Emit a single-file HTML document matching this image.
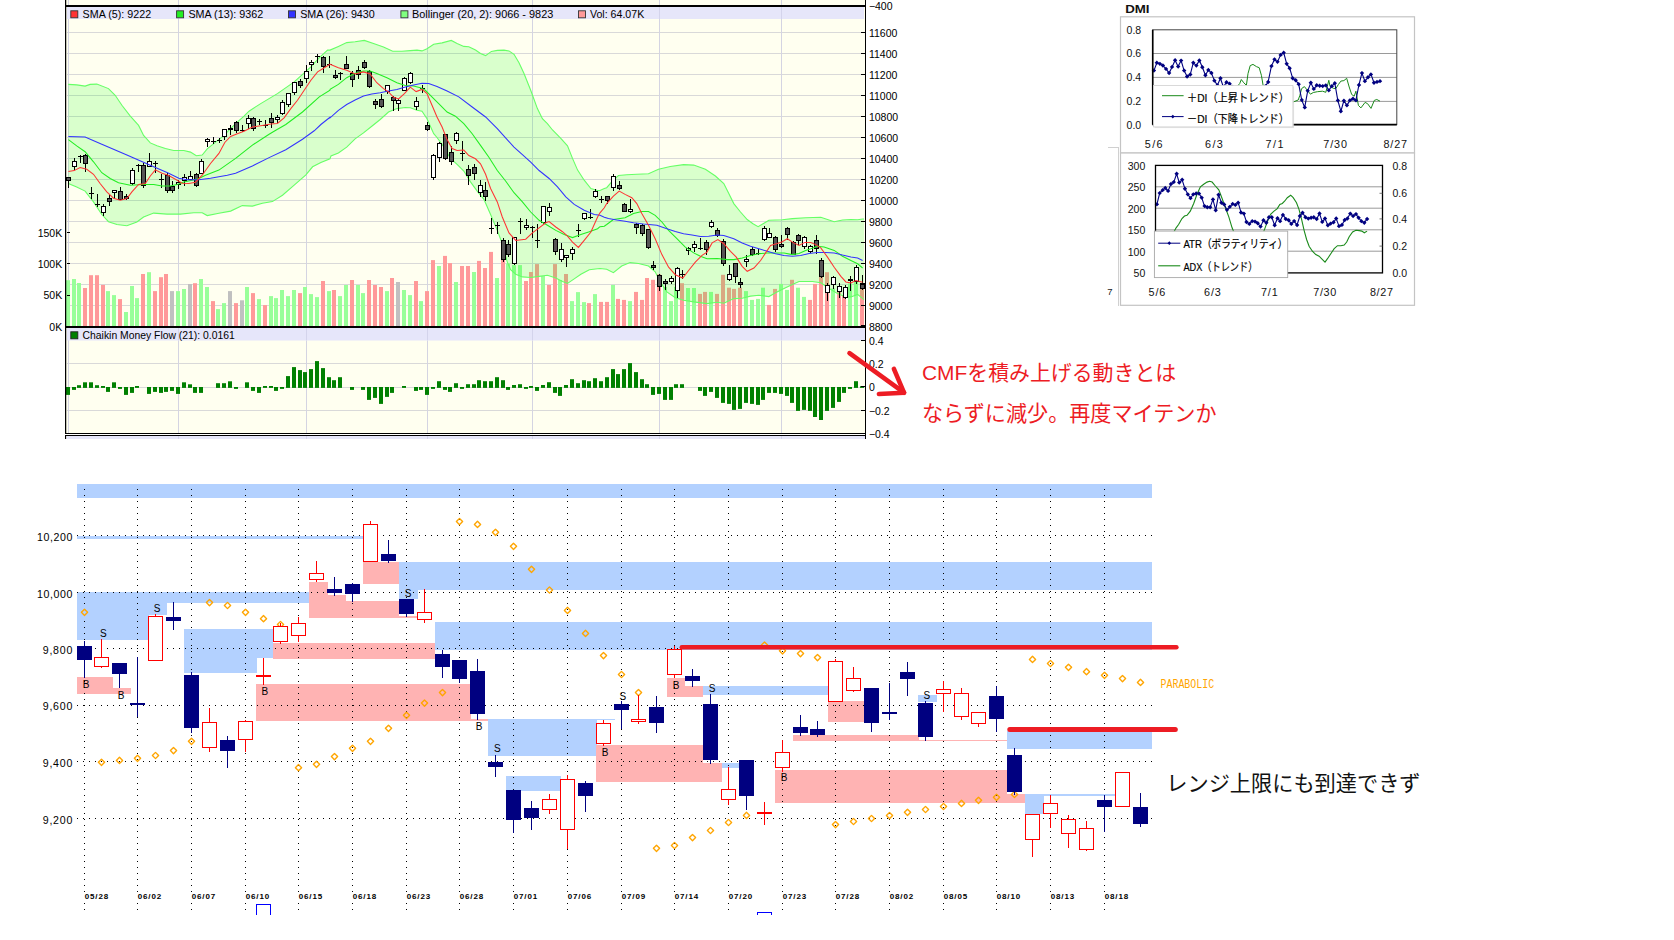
<!DOCTYPE html>
<html><head><meta charset="utf-8"><title>chart</title><style>html,body{margin:0;padding:0;background:#fff}svg{display:block}</style></head><body>
<svg width="1674" height="940" viewBox="0 0 1674 940">
<rect width="1674" height="940" fill="#fff"/>
<g id="top">
<rect x="66" y="0" width="799" height="439" fill="#fffff0"/>
<rect x="67" y="32" width="798" height="1" fill="#d9d9d9"/>
<rect x="67" y="53" width="798" height="1" fill="#d9d9d9"/>
<rect x="67" y="74" width="798" height="1" fill="#d9d9d9"/>
<rect x="67" y="95" width="798" height="1" fill="#d9d9d9"/>
<rect x="67" y="116" width="798" height="1" fill="#d9d9d9"/>
<rect x="67" y="137" width="798" height="1" fill="#d9d9d9"/>
<rect x="67" y="158" width="798" height="1" fill="#d9d9d9"/>
<rect x="67" y="179" width="798" height="1" fill="#d9d9d9"/>
<rect x="67" y="200" width="798" height="1" fill="#d9d9d9"/>
<rect x="67" y="221" width="798" height="1" fill="#d9d9d9"/>
<rect x="67" y="242" width="798" height="1" fill="#d9d9d9"/>
<rect x="67" y="263" width="798" height="1" fill="#d9d9d9"/>
<rect x="67" y="284" width="798" height="1" fill="#d9d9d9"/>
<rect x="67" y="305" width="798" height="1" fill="#d9d9d9"/>
<rect x="67" y="363" width="798" height="1" fill="#d9d9d9"/>
<rect x="67" y="387" width="798" height="1" fill="#d9d9d9"/>
<rect x="67" y="410" width="798" height="1" fill="#d9d9d9"/>
<rect x="68" y="0" width="1" height="439" fill="#d4d4e2"/>
<rect x="178" y="0" width="1" height="439" fill="#d4d4e2"/>
<rect x="306" y="0" width="1" height="439" fill="#d4d4e2"/>
<rect x="427" y="0" width="1" height="439" fill="#d4d4e2"/>
<rect x="532" y="0" width="1" height="439" fill="#d4d4e2"/>
<rect x="659" y="0" width="1" height="439" fill="#d4d4e2"/>
<rect x="781" y="0" width="1" height="439" fill="#d4d4e2"/>
<rect x="66" y="280.2" width="4" height="46.3" fill="#99ff99"/>
<rect x="72" y="279" width="4" height="47.5" fill="#99ff99"/>
<rect x="77" y="283" width="4" height="43.5" fill="#99ff99"/>
<rect x="83" y="288" width="4" height="38.5" fill="#ff9999"/>
<rect x="89" y="275.2" width="4" height="51.3" fill="#ff9999"/>
<rect x="95" y="275.2" width="4" height="51.3" fill="#ff9999"/>
<rect x="101" y="284.9" width="4" height="41.6" fill="#ff9999"/>
<rect x="106" y="291.1" width="4" height="35.4" fill="#99ff99"/>
<rect x="112" y="295.1" width="4" height="31.4" fill="#99ff99"/>
<rect x="118" y="299.1" width="4" height="27.4" fill="#ff9999"/>
<rect x="124" y="312" width="4" height="14.5" fill="#99ff99"/>
<rect x="130" y="286" width="4" height="40.5" fill="#99ff99"/>
<rect x="135" y="298.1" width="4" height="28.4" fill="#99ff99"/>
<rect x="141" y="274" width="4" height="52.5" fill="#ff9999"/>
<rect x="147" y="272.2" width="4" height="54.3" fill="#99ff99"/>
<rect x="153" y="291.1" width="4" height="35.4" fill="#ff9999"/>
<rect x="159" y="277.2" width="4" height="49.3" fill="#ff9999"/>
<rect x="164" y="274" width="4" height="52.5" fill="#ff9999"/>
<rect x="170" y="291.1" width="4" height="35.4" fill="#c0c0c0"/>
<rect x="176" y="291.1" width="4" height="35.4" fill="#99ff99"/>
<rect x="182" y="289" width="4" height="37.5" fill="#99ff99"/>
<rect x="188" y="284" width="4" height="42.5" fill="#c0c0c0"/>
<rect x="193" y="283.2" width="4" height="43.3" fill="#ff9999"/>
<rect x="199" y="279" width="4" height="47.5" fill="#99ff99"/>
<rect x="205" y="287" width="4" height="39.5" fill="#99ff99"/>
<rect x="211" y="301.1" width="4" height="25.4" fill="#ff9999"/>
<rect x="216" y="309.1" width="4" height="17.4" fill="#99ff99"/>
<rect x="222" y="303.1" width="4" height="23.4" fill="#99ff99"/>
<rect x="228" y="291.1" width="4" height="35.4" fill="#c0c0c0"/>
<rect x="234" y="303.1" width="4" height="23.4" fill="#ff9999"/>
<rect x="240" y="300.3" width="4" height="26.2" fill="#c0c0c0"/>
<rect x="245" y="287" width="4" height="39.5" fill="#99ff99"/>
<rect x="251" y="293.1" width="4" height="33.4" fill="#ff9999"/>
<rect x="257" y="299.1" width="4" height="27.4" fill="#99ff99"/>
<rect x="263" y="305.1" width="4" height="21.4" fill="#ff9999"/>
<rect x="269" y="296.1" width="4" height="30.4" fill="#99ff99"/>
<rect x="274" y="298.1" width="4" height="28.4" fill="#99ff99"/>
<rect x="280" y="290" width="4" height="36.5" fill="#99ff99"/>
<rect x="286" y="296.1" width="4" height="30.4" fill="#99ff99"/>
<rect x="292" y="290" width="4" height="36.5" fill="#99ff99"/>
<rect x="298" y="293.1" width="4" height="33.4" fill="#ff9999"/>
<rect x="303" y="287" width="4" height="39.5" fill="#99ff99"/>
<rect x="309" y="294.1" width="4" height="32.4" fill="#99ff99"/>
<rect x="315" y="297.1" width="4" height="29.4" fill="#99ff99"/>
<rect x="321" y="281" width="4" height="45.5" fill="#ff9999"/>
<rect x="327" y="291.1" width="4" height="35.4" fill="#99ff99"/>
<rect x="332" y="290" width="4" height="36.5" fill="#ff9999"/>
<rect x="338" y="296.1" width="4" height="30.4" fill="#99ff99"/>
<rect x="344" y="285" width="4" height="41.5" fill="#99ff99"/>
<rect x="350" y="280" width="4" height="46.5" fill="#ff9999"/>
<rect x="356" y="285" width="4" height="41.5" fill="#99ff99"/>
<rect x="361" y="293.1" width="4" height="33.4" fill="#99ff99"/>
<rect x="367" y="280" width="4" height="46.5" fill="#ff9999"/>
<rect x="373" y="285" width="4" height="41.5" fill="#ff9999"/>
<rect x="379" y="287" width="4" height="39.5" fill="#ff9999"/>
<rect x="385" y="291.1" width="4" height="35.4" fill="#99ff99"/>
<rect x="390" y="278" width="4" height="48.5" fill="#ff9999"/>
<rect x="396" y="282" width="4" height="44.5" fill="#c0c0c0"/>
<rect x="402" y="290" width="4" height="36.5" fill="#99ff99"/>
<rect x="408" y="295.1" width="4" height="31.4" fill="#99ff99"/>
<rect x="414" y="281" width="4" height="45.5" fill="#ff9999"/>
<rect x="419" y="301.1" width="4" height="25.4" fill="#99ff99"/>
<rect x="425" y="291.1" width="4" height="35.4" fill="#ff9999"/>
<rect x="431" y="260.1" width="4" height="66.4" fill="#ff9999"/>
<rect x="437" y="266" width="4" height="60.5" fill="#99ff99"/>
<rect x="443" y="255.9" width="4" height="70.6" fill="#ff9999"/>
<rect x="448" y="263.1" width="4" height="63.4" fill="#ff9999"/>
<rect x="454" y="282" width="4" height="44.5" fill="#99ff99"/>
<rect x="460" y="266" width="4" height="60.5" fill="#ff9999"/>
<rect x="466" y="266" width="4" height="60.5" fill="#ff9999"/>
<rect x="472" y="272" width="4" height="54.5" fill="#99ff99"/>
<rect x="477" y="260.9" width="4" height="65.6" fill="#ff9999"/>
<rect x="483" y="268" width="4" height="58.5" fill="#ff9999"/>
<rect x="489" y="251.9" width="4" height="74.6" fill="#ff9999"/>
<rect x="495" y="278" width="4" height="48.5" fill="#99ff99"/>
<rect x="501" y="258.4" width="4" height="68.1" fill="#ff9999"/>
<rect x="506" y="263.5" width="4" height="63" fill="#99ff99"/>
<rect x="512" y="265.1" width="4" height="61.4" fill="#99ff99"/>
<rect x="518" y="265.1" width="4" height="61.4" fill="#99ff99"/>
<rect x="524" y="281" width="4" height="45.5" fill="#ff9999"/>
<rect x="529" y="272" width="4" height="54.5" fill="#ff9999"/>
<rect x="535" y="264.1" width="4" height="62.4" fill="#ff9999"/>
<rect x="541" y="276" width="4" height="50.5" fill="#99ff99"/>
<rect x="547" y="285" width="4" height="41.5" fill="#ff9999"/>
<rect x="553" y="264.1" width="4" height="62.4" fill="#ff9999"/>
<rect x="558" y="280" width="4" height="46.5" fill="#99ff99"/>
<rect x="564" y="274" width="4" height="52.5" fill="#ff9999"/>
<rect x="570" y="301.1" width="4" height="25.4" fill="#99ff99"/>
<rect x="576" y="292.1" width="4" height="34.4" fill="#99ff99"/>
<rect x="582" y="302.1" width="4" height="24.4" fill="#99ff99"/>
<rect x="587" y="303.1" width="4" height="23.4" fill="#ff9999"/>
<rect x="593" y="294.1" width="4" height="32.4" fill="#99ff99"/>
<rect x="599" y="301.9" width="4" height="24.6" fill="#ff9999"/>
<rect x="605" y="301.9" width="4" height="24.6" fill="#ff9999"/>
<rect x="611" y="284.9" width="4" height="41.6" fill="#99ff99"/>
<rect x="616" y="298.9" width="4" height="27.6" fill="#ff9999"/>
<rect x="622" y="299.9" width="4" height="26.6" fill="#ff9999"/>
<rect x="628" y="301.1" width="4" height="25.4" fill="#99ff99"/>
<rect x="634" y="291.9" width="4" height="34.6" fill="#ff9999"/>
<rect x="640" y="299.9" width="4" height="26.6" fill="#ff9999"/>
<rect x="645" y="278" width="4" height="48.5" fill="#ff9999"/>
<rect x="651" y="279.8" width="4" height="46.7" fill="#ff9999"/>
<rect x="657" y="274.3" width="4" height="52.2" fill="#ff9999"/>
<rect x="663" y="286.9" width="4" height="39.6" fill="#99ff99"/>
<rect x="669" y="301.1" width="4" height="25.4" fill="#99ff99"/>
<rect x="674" y="286.9" width="4" height="39.6" fill="#99ff99"/>
<rect x="680" y="283.2" width="4" height="43.3" fill="#ff9999"/>
<rect x="686" y="288" width="4" height="38.5" fill="#99ff99"/>
<rect x="692" y="288" width="4" height="38.5" fill="#99ff99"/>
<rect x="698" y="293.9" width="4" height="32.6" fill="#ff9999"/>
<rect x="703" y="291.9" width="4" height="34.6" fill="#ff9999"/>
<rect x="709" y="291.9" width="4" height="34.6" fill="#99ff99"/>
<rect x="715" y="293.9" width="4" height="32.6" fill="#ff9999"/>
<rect x="721" y="274.8" width="4" height="51.7" fill="#ff9999"/>
<rect x="727" y="287.7" width="4" height="38.8" fill="#ff9999"/>
<rect x="732" y="288.9" width="4" height="37.6" fill="#ff9999"/>
<rect x="738" y="287.7" width="4" height="38.8" fill="#ff9999"/>
<rect x="744" y="291.1" width="4" height="35.4" fill="#99ff99"/>
<rect x="750" y="299.9" width="4" height="26.6" fill="#99ff99"/>
<rect x="756" y="298.9" width="4" height="27.6" fill="#99ff99"/>
<rect x="761" y="287.7" width="4" height="38.8" fill="#99ff99"/>
<rect x="767" y="304.9" width="4" height="21.6" fill="#ff9999"/>
<rect x="773" y="288.9" width="4" height="37.6" fill="#ff9999"/>
<rect x="779" y="283.9" width="4" height="42.6" fill="#99ff99"/>
<rect x="785" y="289.9" width="4" height="36.6" fill="#99ff99"/>
<rect x="790" y="279.8" width="4" height="46.7" fill="#ff9999"/>
<rect x="796" y="287.7" width="4" height="38.8" fill="#99ff99"/>
<rect x="802" y="296.9" width="4" height="29.6" fill="#99ff99"/>
<rect x="808" y="299.9" width="4" height="26.6" fill="#ff9999"/>
<rect x="813" y="283.9" width="4" height="42.6" fill="#ff9999"/>
<rect x="819" y="276.8" width="4" height="49.7" fill="#ff9999"/>
<rect x="825" y="272.2" width="4" height="54.3" fill="#ff9999"/>
<rect x="831" y="288.5" width="4" height="38" fill="#99ff99"/>
<rect x="837" y="291.1" width="4" height="35.4" fill="#ff9999"/>
<rect x="842" y="295.2" width="4" height="31.3" fill="#ff9999"/>
<rect x="848" y="283.5" width="4" height="43" fill="#99ff99"/>
<rect x="854" y="281.9" width="4" height="44.6" fill="#99ff99"/>
<rect x="860" y="288.5" width="4" height="38" fill="#ff9999"/>
<polygon points="68.2,84.4 68.4,84.4 76.7,84.9 85.1,86.1 90.1,84.4 96.8,84.1 108.5,88.6 115.2,95.3 121.9,105.3 130.3,116.2 138.6,125.4 143.6,135.4 150.3,142.9 157,145.8 165.4,148.5 173.7,150.5 183.8,150.5 190.5,152.1 196.3,155.8 202.2,155.1 207.2,148.8 215.6,142.1 223.1,136.2 235.6,123.7 244,116.2 249,111.2 260.7,103.6 277.4,93.6 294.2,81.9 310.9,66.8 319.3,57.6 327.6,50.1 330,50.1 338.4,46.4 346.7,42.6 355.1,41.7 364.3,40.4 373.5,43.4 383.5,47.1 392.7,51.3 401.9,51.3 410.3,50.6 417,50.1 422,50.9 427,48.8 433.7,44.3 442.1,42.9 451.3,40.4 457.1,43.4 463.8,46.4 468.8,46.8 475.5,50.1 480.5,53.5 485.6,55.6 491.4,51.4 497.3,50.4 504,50.1 509,50.9 514,54.3 519,62.7 524,73.5 530.7,90.3 537.4,108.6 542.4,118.7 547.4,123.7 552.5,130 560.8,138.4 567.5,145.9 572.5,158.4 577.6,170.1 584.2,180.2 590.9,188.5 597.6,190.5 600,190.5 604.3,188.5 606.7,187.7 611.7,181.9 618.4,175.5 626.8,174.8 636.8,174.3 648.5,173.8 658.5,169.3 670.3,166.5 683.6,164.6 693.7,165.1 705.4,169.3 715.4,176 723.8,183.5 728.8,193.6 733.8,203.6 740.5,212 747.2,219.5 753,223.7 758.1,226.7 763.1,223.7 768.9,220.3 782.3,219.8 792.4,218.6 805.7,217.8 820.8,217.3 827.5,219.5 834.2,221.7 842.5,220 850.9,219.5 857.6,219.8 862.6,219 864,219 864,299.6 862.6,298.6 857.6,294.4 850.9,296.9 845.9,296.9 837.5,293.6 829.2,288.5 820.8,282.7 812.4,281.5 799,281.5 792.4,284.4 784,288.5 775.6,292.7 768.9,296.6 758.9,295.2 750.5,296.1 742.2,298.2 733.8,298.6 723.8,303.3 717.1,302.3 707,303.6 693.7,301.9 683.6,300.3 675.3,297.7 666.9,291.9 660.2,281.9 655.2,271.8 648.5,266 638.5,263.5 630.1,262.6 621.7,266 613.4,272.7 606.7,269.3 600,268.5 597.6,268.8 589.3,269.7 580.9,274.2 574.2,278.9 567.5,283.5 562.5,281.4 555.8,278 547.4,275.2 539.1,276.4 530.7,277.5 522.4,276.9 515.7,274.2 510.6,269.7 507.3,262.1 502.3,243.7 497.3,230.4 490.6,214.5 483.9,199.4 477.2,191.1 470.5,181.9 463.8,171 457.1,164.3 450.4,158.4 443.7,146.7 437,137.5 433.7,133.7 427,118.7 422,111.2 417,110.3 410.3,107.8 405.3,107.5 396.9,108.6 388.5,112 380.2,119.5 371.8,126.2 363.5,132.9 355.1,138.8 346.7,147.1 338.4,153 331,155.9 330,158.8 320.9,162.6 312.6,166.8 305.9,174.8 294.2,185.2 282.5,195.2 272.4,201.6 262.4,203.3 252.4,206.1 242.3,205.6 230.6,211.1 218.9,213.3 207.2,215.6 202.2,212.8 193.8,212.8 180.4,214.1 167,214.1 153.7,213.1 143.6,217 136.9,222 126.9,225.8 116.9,224.5 108.5,221.7 101.8,214.5 93.5,201.9 85.1,191.1 76.7,186.9 68.4,183.5 68.2,183.2" fill="#00ff00" fill-opacity="0.15"/>
<polyline points="68.2,84.4 68.4,84.4 76.7,84.9 85.1,86.1 90.1,84.4 96.8,84.1 108.5,88.6 115.2,95.3 121.9,105.3 130.3,116.2 138.6,125.4 143.6,135.4 150.3,142.9 157,145.8 165.4,148.5 173.7,150.5 183.8,150.5 190.5,152.1 196.3,155.8 202.2,155.1 207.2,148.8 215.6,142.1 223.1,136.2 235.6,123.7 244,116.2 249,111.2 260.7,103.6 277.4,93.6 294.2,81.9 310.9,66.8 319.3,57.6 327.6,50.1 330,50.1 338.4,46.4 346.7,42.6 355.1,41.7 364.3,40.4 373.5,43.4 383.5,47.1 392.7,51.3 401.9,51.3 410.3,50.6 417,50.1 422,50.9 427,48.8 433.7,44.3 442.1,42.9 451.3,40.4 457.1,43.4 463.8,46.4 468.8,46.8 475.5,50.1 480.5,53.5 485.6,55.6 491.4,51.4 497.3,50.4 504,50.1 509,50.9 514,54.3 519,62.7 524,73.5 530.7,90.3 537.4,108.6 542.4,118.7 547.4,123.7 552.5,130 560.8,138.4 567.5,145.9 572.5,158.4 577.6,170.1 584.2,180.2 590.9,188.5 597.6,190.5 600,190.5 604.3,188.5 606.7,187.7 611.7,181.9 618.4,175.5 626.8,174.8 636.8,174.3 648.5,173.8 658.5,169.3 670.3,166.5 683.6,164.6 693.7,165.1 705.4,169.3 715.4,176 723.8,183.5 728.8,193.6 733.8,203.6 740.5,212 747.2,219.5 753,223.7 758.1,226.7 763.1,223.7 768.9,220.3 782.3,219.8 792.4,218.6 805.7,217.8 820.8,217.3 827.5,219.5 834.2,221.7 842.5,220 850.9,219.5 857.6,219.8 862.6,219 864,219" fill="none" stroke="#66ff66" stroke-width="1.1"/>
<polyline points="68.2,183.2 68.4,183.5 76.7,186.9 85.1,191.1 93.5,201.9 101.8,214.5 108.5,221.7 116.9,224.5 126.9,225.8 136.9,222 143.6,217 153.7,213.1 167,214.1 180.4,214.1 193.8,212.8 202.2,212.8 207.2,215.6 218.9,213.3 230.6,211.1 242.3,205.6 252.4,206.1 262.4,203.3 272.4,201.6 282.5,195.2 294.2,185.2 305.9,174.8 312.6,166.8 320.9,162.6 330,158.8 331,155.9 338.4,153 346.7,147.1 355.1,138.8 363.5,132.9 371.8,126.2 380.2,119.5 388.5,112 396.9,108.6 405.3,107.5 410.3,107.8 417,110.3 422,111.2 427,118.7 433.7,133.7 437,137.5 443.7,146.7 450.4,158.4 457.1,164.3 463.8,171 470.5,181.9 477.2,191.1 483.9,199.4 490.6,214.5 497.3,230.4 502.3,243.7 507.3,262.1 510.6,269.7 515.7,274.2 522.4,276.9 530.7,277.5 539.1,276.4 547.4,275.2 555.8,278 562.5,281.4 567.5,283.5 574.2,278.9 580.9,274.2 589.3,269.7 597.6,268.8 600,268.5 606.7,269.3 613.4,272.7 621.7,266 630.1,262.6 638.5,263.5 648.5,266 655.2,271.8 660.2,281.9 666.9,291.9 675.3,297.7 683.6,300.3 693.7,301.9 707,303.6 717.1,302.3 723.8,303.3 733.8,298.6 742.2,298.2 750.5,296.1 758.9,295.2 768.9,296.6 775.6,292.7 784,288.5 792.4,284.4 799,281.5 812.4,281.5 820.8,282.7 829.2,288.5 837.5,293.6 845.9,296.9 850.9,296.9 857.6,294.4 862.6,298.6 864,299.6" fill="none" stroke="#66ff66" stroke-width="1.1"/>
<g shape-rendering="crispEdges">
<rect x="68" y="177" width="1" height="11" fill="#000"/>
<rect x="66.5" y="177.5" width="4" height="3" fill="#555" stroke="#000" stroke-width="1"/>
<rect x="74" y="158" width="1" height="12" fill="#000"/>
<rect x="72.5" y="161.5" width="4" height="5" fill="#fff" stroke="#000" stroke-width="1"/>
<rect x="80" y="155" width="1" height="8" fill="#000"/>
<rect x="78" y="156" width="5" height="1" fill="#000"/>
<rect x="85" y="154" width="1" height="18" fill="#000"/>
<rect x="83.5" y="155.5" width="4" height="8" fill="#555" stroke="#000" stroke-width="1"/>
<rect x="91" y="187" width="1" height="12" fill="#000"/>
<rect x="89" y="193" width="5" height="1" fill="#000"/>
<rect x="97" y="194" width="1" height="13" fill="#000"/>
<rect x="95" y="204" width="5" height="1" fill="#000"/>
<rect x="103" y="204" width="1" height="12" fill="#000"/>
<rect x="101.5" y="206.5" width="4" height="6" fill="#fff" stroke="#000" stroke-width="1"/>
<rect x="109" y="195" width="1" height="11" fill="#000"/>
<rect x="107.5" y="198.5" width="4" height="3" fill="#555" stroke="#000" stroke-width="1"/>
<rect x="114" y="191" width="1" height="8" fill="#000"/>
<rect x="112.5" y="190.5" width="4" height="2" fill="#fff" stroke="#000" stroke-width="1"/>
<rect x="120" y="187" width="1" height="13" fill="#000"/>
<rect x="118.5" y="191.5" width="4" height="8" fill="#555" stroke="#000" stroke-width="1"/>
<rect x="126" y="194" width="1" height="6" fill="#000"/>
<rect x="124.5" y="196.5" width="4" height="2" fill="#555" stroke="#000" stroke-width="1"/>
<rect x="132" y="168" width="1" height="17" fill="#000"/>
<rect x="130.5" y="170.5" width="4" height="13" fill="#fff" stroke="#000" stroke-width="1"/>
<rect x="138" y="164" width="1" height="8" fill="#000"/>
<rect x="136" y="165" width="5" height="1" fill="#000"/>
<rect x="143" y="163" width="1" height="25" fill="#000"/>
<rect x="141.5" y="165.5" width="4" height="20" fill="#555" stroke="#000" stroke-width="1"/>
<rect x="149" y="153" width="1" height="14" fill="#000"/>
<rect x="147.5" y="161.5" width="4" height="5" fill="#fff" stroke="#000" stroke-width="1"/>
<rect x="155" y="161" width="1" height="12" fill="#000"/>
<rect x="153" y="163" width="5" height="1" fill="#000"/>
<rect x="161" y="174" width="1" height="14" fill="#000"/>
<rect x="159" y="179" width="5" height="1" fill="#000"/>
<rect x="167" y="173" width="1" height="20" fill="#000"/>
<rect x="165.5" y="175.5" width="4" height="15" fill="#555" stroke="#000" stroke-width="1"/>
<rect x="172" y="181" width="1" height="12" fill="#000"/>
<rect x="170.5" y="186.5" width="4" height="4" fill="#555" stroke="#000" stroke-width="1"/>
<rect x="178" y="180" width="1" height="9" fill="#000"/>
<rect x="176.5" y="182.5" width="4" height="2" fill="#fff" stroke="#000" stroke-width="1"/>
<rect x="184" y="174" width="1" height="12" fill="#000"/>
<rect x="182.5" y="177.5" width="4" height="3" fill="#fff" stroke="#000" stroke-width="1"/>
<rect x="190" y="171" width="1" height="9" fill="#000"/>
<rect x="188.5" y="176.5" width="4" height="3" fill="#fff" stroke="#000" stroke-width="1"/>
<rect x="196" y="173" width="1" height="14" fill="#000"/>
<rect x="194.5" y="174.5" width="4" height="11" fill="#555" stroke="#000" stroke-width="1"/>
<rect x="201" y="159" width="1" height="15" fill="#000"/>
<rect x="199.5" y="161.5" width="4" height="12" fill="#fff" stroke="#000" stroke-width="1"/>
<rect x="207" y="138" width="1" height="9" fill="#000"/>
<rect x="205.5" y="139.5" width="4" height="2" fill="#fff" stroke="#000" stroke-width="1"/>
<rect x="213" y="137" width="1" height="7" fill="#000"/>
<rect x="211" y="141" width="5" height="1" fill="#000"/>
<rect x="219" y="138" width="1" height="5" fill="#000"/>
<rect x="217" y="140" width="5" height="1" fill="#000"/>
<rect x="224" y="129" width="1" height="11" fill="#000"/>
<rect x="222.5" y="129.5" width="4" height="7" fill="#fff" stroke="#000" stroke-width="1"/>
<rect x="230" y="125" width="1" height="10" fill="#000"/>
<rect x="228" y="128" width="5" height="2" fill="#000"/>
<rect x="236" y="121" width="1" height="12" fill="#000"/>
<rect x="234.5" y="122.5" width="4" height="8" fill="#555" stroke="#000" stroke-width="1"/>
<rect x="242" y="125" width="1" height="7" fill="#000"/>
<rect x="240" y="130" width="5" height="1" fill="#000"/>
<rect x="248" y="115" width="1" height="14" fill="#000"/>
<rect x="246.5" y="118.5" width="4" height="5" fill="#fff" stroke="#000" stroke-width="1"/>
<rect x="253" y="117" width="1" height="14" fill="#000"/>
<rect x="251.5" y="118.5" width="4" height="10" fill="#555" stroke="#000" stroke-width="1"/>
<rect x="259" y="119" width="1" height="6" fill="#000"/>
<rect x="257" y="121" width="5" height="1" fill="#000"/>
<rect x="265" y="120" width="1" height="8" fill="#000"/>
<rect x="263" y="125" width="5" height="1" fill="#000"/>
<rect x="271" y="113" width="1" height="15" fill="#000"/>
<rect x="269.5" y="118.5" width="4" height="4" fill="#555" stroke="#000" stroke-width="1"/>
<rect x="277" y="115" width="1" height="8" fill="#000"/>
<rect x="275.5" y="117.5" width="4" height="2" fill="#fff" stroke="#000" stroke-width="1"/>
<rect x="282" y="100" width="1" height="15" fill="#000"/>
<rect x="280.5" y="102.5" width="4" height="11" fill="#fff" stroke="#000" stroke-width="1"/>
<rect x="288" y="93" width="1" height="14" fill="#000"/>
<rect x="286.5" y="93.5" width="4" height="11" fill="#fff" stroke="#000" stroke-width="1"/>
<rect x="294" y="82" width="1" height="13" fill="#000"/>
<rect x="292.5" y="82.5" width="4" height="10" fill="#fff" stroke="#000" stroke-width="1"/>
<rect x="300" y="79" width="1" height="9" fill="#000"/>
<rect x="298.5" y="81.5" width="4" height="4" fill="#555" stroke="#000" stroke-width="1"/>
<rect x="306" y="65" width="1" height="18" fill="#000"/>
<rect x="304.5" y="71.5" width="4" height="7" fill="#fff" stroke="#000" stroke-width="1"/>
<rect x="311" y="60" width="1" height="11" fill="#000"/>
<rect x="309.5" y="62.5" width="4" height="2" fill="#fff" stroke="#000" stroke-width="1"/>
<rect x="317" y="54" width="1" height="9" fill="#000"/>
<rect x="315" y="56" width="5" height="1" fill="#000"/>
<rect x="323" y="56" width="1" height="17" fill="#000"/>
<rect x="321.5" y="57.5" width="4" height="9" fill="#555" stroke="#000" stroke-width="1"/>
<rect x="329" y="56" width="1" height="12" fill="#000"/>
<rect x="327" y="64" width="5" height="1" fill="#000"/>
<rect x="335" y="70" width="1" height="9" fill="#000"/>
<rect x="333.5" y="75.5" width="4" height="2" fill="#555" stroke="#000" stroke-width="1"/>
<rect x="340" y="72" width="1" height="8" fill="#000"/>
<rect x="338" y="73" width="5" height="1" fill="#000"/>
<rect x="346" y="56" width="1" height="13" fill="#000"/>
<rect x="344.5" y="64.5" width="4" height="4" fill="#555" stroke="#000" stroke-width="1"/>
<rect x="352" y="71" width="1" height="16" fill="#000"/>
<rect x="350.5" y="73.5" width="4" height="6" fill="#555" stroke="#000" stroke-width="1"/>
<rect x="358" y="66" width="1" height="13" fill="#000"/>
<rect x="356.5" y="70.5" width="4" height="4" fill="#555" stroke="#000" stroke-width="1"/>
<rect x="364" y="60" width="1" height="9" fill="#000"/>
<rect x="362.5" y="62.5" width="4" height="5" fill="#555" stroke="#000" stroke-width="1"/>
<rect x="369" y="70" width="1" height="18" fill="#000"/>
<rect x="367.5" y="71.5" width="4" height="15" fill="#555" stroke="#000" stroke-width="1"/>
<rect x="375" y="99" width="1" height="10" fill="#000"/>
<rect x="373.5" y="101.5" width="4" height="3" fill="#555" stroke="#000" stroke-width="1"/>
<rect x="381" y="94" width="1" height="14" fill="#000"/>
<rect x="379.5" y="99.5" width="4" height="7" fill="#555" stroke="#000" stroke-width="1"/>
<rect x="387" y="86" width="1" height="8" fill="#000"/>
<rect x="385.5" y="85.5" width="4" height="6" fill="#fff" stroke="#000" stroke-width="1"/>
<rect x="393" y="96" width="1" height="15" fill="#000"/>
<rect x="391.5" y="97.5" width="4" height="3" fill="#555" stroke="#000" stroke-width="1"/>
<rect x="398" y="99" width="1" height="12" fill="#000"/>
<rect x="396.5" y="100.5" width="4" height="3" fill="#fff" stroke="#000" stroke-width="1"/>
<rect x="404" y="77" width="1" height="13" fill="#000"/>
<rect x="402.5" y="78.5" width="4" height="12" fill="#fff" stroke="#000" stroke-width="1"/>
<rect x="410" y="72" width="1" height="12" fill="#000"/>
<rect x="408.5" y="73.5" width="4" height="9" fill="#fff" stroke="#000" stroke-width="1"/>
<rect x="416" y="97" width="1" height="13" fill="#000"/>
<rect x="414.5" y="101.5" width="4" height="5" fill="#fff" stroke="#000" stroke-width="1"/>
<rect x="422" y="85" width="1" height="8" fill="#000"/>
<rect x="420" y="88" width="5" height="1" fill="#000"/>
<rect x="427" y="122" width="1" height="9" fill="#000"/>
<rect x="425.5" y="125.5" width="4" height="4" fill="#555" stroke="#000" stroke-width="1"/>
<rect x="433" y="154" width="1" height="26" fill="#000"/>
<rect x="431.5" y="155.5" width="4" height="22" fill="#fff" stroke="#000" stroke-width="1"/>
<rect x="439" y="142" width="1" height="20" fill="#000"/>
<rect x="437.5" y="143.5" width="4" height="14" fill="#fff" stroke="#000" stroke-width="1"/>
<rect x="445" y="134" width="1" height="26" fill="#000"/>
<rect x="443.5" y="134.5" width="4" height="24" fill="#555" stroke="#000" stroke-width="1"/>
<rect x="451" y="146" width="1" height="19" fill="#000"/>
<rect x="449.5" y="152.5" width="4" height="9" fill="#555" stroke="#000" stroke-width="1"/>
<rect x="456" y="132" width="1" height="12" fill="#000"/>
<rect x="454.5" y="133.5" width="4" height="7" fill="#fff" stroke="#000" stroke-width="1"/>
<rect x="462" y="141" width="1" height="20" fill="#000"/>
<rect x="460" y="153" width="5" height="1" fill="#000"/>
<rect x="468" y="165" width="1" height="20" fill="#000"/>
<rect x="466.5" y="169.5" width="4" height="6" fill="#555" stroke="#000" stroke-width="1"/>
<rect x="474" y="164" width="1" height="16" fill="#000"/>
<rect x="472.5" y="167.5" width="4" height="6" fill="#555" stroke="#000" stroke-width="1"/>
<rect x="480" y="180" width="1" height="17" fill="#000"/>
<rect x="478.5" y="185.5" width="4" height="7" fill="#fff" stroke="#000" stroke-width="1"/>
<rect x="485" y="182" width="1" height="19" fill="#000"/>
<rect x="483.5" y="190.5" width="4" height="6" fill="#555" stroke="#000" stroke-width="1"/>
<rect x="491" y="218" width="1" height="16" fill="#000"/>
<rect x="489" y="228" width="5" height="1" fill="#000"/>
<rect x="497" y="222" width="1" height="12" fill="#000"/>
<rect x="495" y="225" width="5" height="1" fill="#000"/>
<rect x="503" y="238" width="1" height="24" fill="#000"/>
<rect x="501.5" y="240.5" width="4" height="19" fill="#555" stroke="#000" stroke-width="1"/>
<rect x="508" y="240" width="1" height="17" fill="#000"/>
<rect x="506.5" y="244.5" width="4" height="10" fill="#555" stroke="#000" stroke-width="1"/>
<rect x="514" y="238" width="1" height="27" fill="#000"/>
<rect x="512.5" y="237.5" width="4" height="26" fill="#fff" stroke="#000" stroke-width="1"/>
<rect x="520" y="218" width="1" height="16" fill="#000"/>
<rect x="518" y="221" width="5" height="1" fill="#000"/>
<rect x="526" y="219" width="1" height="11" fill="#000"/>
<rect x="524.5" y="225.5" width="4" height="2" fill="#fff" stroke="#000" stroke-width="1"/>
<rect x="532" y="226" width="1" height="12" fill="#000"/>
<rect x="530" y="227" width="5" height="1" fill="#000"/>
<rect x="537" y="224" width="1" height="24" fill="#000"/>
<rect x="535" y="240" width="5" height="1" fill="#000"/>
<rect x="543" y="206" width="1" height="18" fill="#000"/>
<rect x="541.5" y="206.5" width="4" height="16" fill="#fff" stroke="#000" stroke-width="1"/>
<rect x="549" y="203" width="1" height="13" fill="#000"/>
<rect x="547.5" y="207.5" width="4" height="4" fill="#fff" stroke="#000" stroke-width="1"/>
<rect x="555" y="238" width="1" height="17" fill="#000"/>
<rect x="553.5" y="239.5" width="4" height="12" fill="#555" stroke="#000" stroke-width="1"/>
<rect x="561" y="243" width="1" height="19" fill="#000"/>
<rect x="559.5" y="249.5" width="4" height="10" fill="#fff" stroke="#000" stroke-width="1"/>
<rect x="566" y="255" width="1" height="12" fill="#000"/>
<rect x="564.5" y="255.5" width="4" height="2" fill="#fff" stroke="#000" stroke-width="1"/>
<rect x="572" y="247" width="1" height="13" fill="#000"/>
<rect x="570.5" y="249.5" width="4" height="4" fill="#fff" stroke="#000" stroke-width="1"/>
<rect x="578" y="224" width="1" height="13" fill="#000"/>
<rect x="576" y="230" width="5" height="1" fill="#000"/>
<rect x="584" y="213" width="1" height="7" fill="#000"/>
<rect x="582.5" y="213.5" width="4" height="5" fill="#fff" stroke="#000" stroke-width="1"/>
<rect x="590" y="209" width="1" height="10" fill="#000"/>
<rect x="588" y="217" width="5" height="1" fill="#000"/>
<rect x="595" y="189" width="1" height="9" fill="#000"/>
<rect x="593.5" y="191.5" width="4" height="5" fill="#fff" stroke="#000" stroke-width="1"/>
<rect x="601" y="196" width="1" height="7" fill="#000"/>
<rect x="599" y="199" width="5" height="1" fill="#000"/>
<rect x="607" y="196" width="1" height="8" fill="#000"/>
<rect x="605.5" y="196.5" width="4" height="4" fill="#555" stroke="#000" stroke-width="1"/>
<rect x="613" y="174" width="1" height="17" fill="#000"/>
<rect x="611.5" y="176.5" width="4" height="11" fill="#fff" stroke="#000" stroke-width="1"/>
<rect x="619" y="181" width="1" height="9" fill="#000"/>
<rect x="617.5" y="185.5" width="4" height="3" fill="#555" stroke="#000" stroke-width="1"/>
<rect x="624" y="203" width="1" height="9" fill="#000"/>
<rect x="622.5" y="204.5" width="4" height="7" fill="#555" stroke="#000" stroke-width="1"/>
<rect x="630" y="199" width="1" height="14" fill="#000"/>
<rect x="628.5" y="209.5" width="4" height="2" fill="#fff" stroke="#000" stroke-width="1"/>
<rect x="636" y="223" width="1" height="11" fill="#000"/>
<rect x="634.5" y="224.5" width="4" height="3" fill="#555" stroke="#000" stroke-width="1"/>
<rect x="642" y="224" width="1" height="12" fill="#000"/>
<rect x="640.5" y="225.5" width="4" height="8" fill="#555" stroke="#000" stroke-width="1"/>
<rect x="648" y="229" width="1" height="20" fill="#000"/>
<rect x="646.5" y="229.5" width="4" height="18" fill="#555" stroke="#000" stroke-width="1"/>
<rect x="688" y="247" width="1" height="8" fill="#000"/>
<rect x="686.5" y="248.5" width="4" height="2" fill="#fff" stroke="#000" stroke-width="1"/>
<rect x="694" y="241" width="1" height="11" fill="#000"/>
<rect x="692.5" y="244.5" width="4" height="3" fill="#fff" stroke="#000" stroke-width="1"/>
<rect x="700" y="238" width="1" height="12" fill="#000"/>
<rect x="698" y="248" width="5" height="1" fill="#000"/>
<rect x="706" y="240" width="1" height="15" fill="#000"/>
<rect x="704.5" y="242.5" width="4" height="7" fill="#555" stroke="#000" stroke-width="1"/>
<rect x="711" y="220" width="1" height="8" fill="#000"/>
<rect x="709.5" y="222.5" width="4" height="4" fill="#fff" stroke="#000" stroke-width="1"/>
<rect x="717" y="228" width="1" height="9" fill="#000"/>
<rect x="715.5" y="230.5" width="4" height="5" fill="#555" stroke="#000" stroke-width="1"/>
<rect x="723" y="239" width="1" height="27" fill="#000"/>
<rect x="721.5" y="241.5" width="4" height="22" fill="#555" stroke="#000" stroke-width="1"/>
<rect x="746" y="255" width="1" height="12" fill="#000"/>
<rect x="744.5" y="259.5" width="4" height="2" fill="#fff" stroke="#000" stroke-width="1"/>
<rect x="752" y="247" width="1" height="9" fill="#000"/>
<rect x="750.5" y="249.5" width="4" height="5" fill="#555" stroke="#000" stroke-width="1"/>
<rect x="758" y="249" width="1" height="6" fill="#000"/>
<rect x="756" y="253" width="5" height="1" fill="#000"/>
<rect x="764" y="226" width="1" height="15" fill="#000"/>
<rect x="762.5" y="228.5" width="4" height="11" fill="#fff" stroke="#000" stroke-width="1"/>
<rect x="769" y="228" width="1" height="10" fill="#000"/>
<rect x="767.5" y="233.5" width="4" height="4" fill="#fff" stroke="#000" stroke-width="1"/>
<rect x="775" y="236" width="1" height="16" fill="#000"/>
<rect x="773.5" y="237.5" width="4" height="12" fill="#555" stroke="#000" stroke-width="1"/>
<rect x="781" y="235" width="1" height="13" fill="#000"/>
<rect x="779.5" y="244.5" width="4" height="2" fill="#555" stroke="#000" stroke-width="1"/>
<rect x="787" y="227" width="1" height="13" fill="#000"/>
<rect x="785.5" y="228.5" width="4" height="6" fill="#555" stroke="#000" stroke-width="1"/>
<rect x="793" y="241" width="1" height="14" fill="#000"/>
<rect x="791.5" y="242.5" width="4" height="12" fill="#555" stroke="#000" stroke-width="1"/>
<rect x="798" y="234" width="1" height="11" fill="#000"/>
<rect x="796.5" y="235.5" width="4" height="5" fill="#555" stroke="#000" stroke-width="1"/>
<rect x="804" y="236" width="1" height="13" fill="#000"/>
<rect x="802.5" y="237.5" width="4" height="9" fill="#fff" stroke="#000" stroke-width="1"/>
<rect x="810" y="245" width="1" height="8" fill="#000"/>
<rect x="808.5" y="246.5" width="4" height="5" fill="#fff" stroke="#000" stroke-width="1"/>
<rect x="816" y="235" width="1" height="19" fill="#000"/>
<rect x="814.5" y="240.5" width="4" height="8" fill="#555" stroke="#000" stroke-width="1"/>
<rect x="653" y="261" width="1" height="9" fill="#000"/>
<rect x="651.5" y="265.5" width="4" height="2" fill="#555" stroke="#000" stroke-width="1"/>
<rect x="659" y="274" width="1" height="17" fill="#000"/>
<rect x="657.5" y="275.5" width="4" height="11" fill="#555" stroke="#000" stroke-width="1"/>
<rect x="665" y="279" width="1" height="11" fill="#000"/>
<rect x="663.5" y="281.5" width="4" height="2" fill="#555" stroke="#000" stroke-width="1"/>
<rect x="671" y="276" width="1" height="8" fill="#000"/>
<rect x="669.5" y="278.5" width="4" height="3" fill="#fff" stroke="#000" stroke-width="1"/>
<rect x="677" y="267" width="1" height="31" fill="#000"/>
<rect x="675.5" y="268.5" width="4" height="22" fill="#fff" stroke="#000" stroke-width="1"/>
<rect x="682" y="270" width="1" height="9" fill="#000"/>
<rect x="680" y="274" width="5" height="1" fill="#000"/>
<rect x="729" y="265" width="1" height="16" fill="#000"/>
<rect x="727.5" y="274.5" width="4" height="5" fill="#fff" stroke="#000" stroke-width="1"/>
<rect x="735" y="263" width="1" height="20" fill="#000"/>
<rect x="733.5" y="263.5" width="4" height="13" fill="#555" stroke="#000" stroke-width="1"/>
<rect x="740" y="278" width="1" height="10" fill="#000"/>
<rect x="738.5" y="282.5" width="4" height="2" fill="#555" stroke="#000" stroke-width="1"/>
<rect x="821" y="258" width="1" height="20" fill="#000"/>
<rect x="819.5" y="260.5" width="4" height="16" fill="#555" stroke="#000" stroke-width="1"/>
<rect x="827" y="283" width="1" height="18" fill="#000"/>
<rect x="825.5" y="285.5" width="4" height="7" fill="#fff" stroke="#000" stroke-width="1"/>
<rect x="833" y="276" width="1" height="13" fill="#000"/>
<rect x="831.5" y="277.5" width="4" height="7" fill="#fff" stroke="#000" stroke-width="1"/>
<rect x="839" y="283" width="1" height="15" fill="#000"/>
<rect x="837.5" y="286.5" width="4" height="5" fill="#fff" stroke="#000" stroke-width="1"/>
<rect x="845" y="285" width="1" height="14" fill="#000"/>
<rect x="843.5" y="287.5" width="4" height="10" fill="#fff" stroke="#000" stroke-width="1"/>
<rect x="850" y="276" width="1" height="15" fill="#000"/>
<rect x="848" y="279" width="5" height="2" fill="#000"/>
<rect x="856" y="265" width="1" height="19" fill="#000"/>
<rect x="854.5" y="267.5" width="4" height="14" fill="#fff" stroke="#000" stroke-width="1"/>
<rect x="862" y="275" width="1" height="15" fill="#000"/>
<rect x="860.5" y="283.5" width="4" height="5" fill="#555" stroke="#000" stroke-width="1"/>
</g>
<polyline points="68.4,139.7 76.7,145.9 85.1,151.7 93.5,161.8 101.8,172.7 110.2,178.5 118.5,182.7 130.3,185.2 143.6,184.4 153.7,184.4 162,186 170.4,186 177.1,184.4 183.8,181.9 192.1,180.2 198.8,178.5 205.5,175.2 218.9,170.1 235.6,158.4 252.4,145.1 269.1,134.2 275.8,130.3 285.8,124.5 302.5,112 319.3,96.9 330,90.3 330.1,89.4 338.4,84.4 346.7,77.7 355.1,73.2 363.5,71 370.1,71 376.8,73.5 386.9,77.7 396.9,82.7 405.3,85.6 413.6,86.1 420.3,87.7 425.3,90.3 430.4,95.3 438.7,103.6 447.1,112 455.4,116.2 463.8,123.7 472.2,133.7 480.5,145.4 488.9,157.2 497.3,170.5 505.6,181 514,192.7 522.4,201.9 530.7,212 539.1,220.3 547.4,225.3 555.8,230.4 564.2,234.5 572.5,237.6 580.9,234.5 589.3,231.7 597.6,228.7 600,226.7 604.3,226.2 606.7,224.5 613.4,219.5 625.1,217.8 633.5,213.6 641.8,211.5 648.5,211.5 655.2,215.3 661.9,222 668.6,230.4 676.9,238.7 685.3,247.1 693.7,252.9 700.4,256.3 707,258.8 717.1,258.5 727.1,259.6 733.8,259.6 742.2,258 750.5,255.4 758.9,253.8 767.3,252.9 775.6,252.9 784,252.9 792.4,254.6 799,253.4 805.7,250.4 810.8,248.8 817.4,246.2 824.1,247.1 834.2,250.4 842.5,256.3 850.9,260.5 857.6,263.8 862.6,268" fill="none" stroke="#22ee22" stroke-width="1.05"/>
<polyline points="68.4,136.4 85.1,137 101.8,144.2 126.9,155.1 152,166 168.7,173.2 178.8,178.2 187.1,179.8 198.8,179.8 210.5,178.2 227.3,175.2 235.6,173.2 252.4,166 269.1,157.6 285.8,149.7 302.5,139.2 314.2,130.8 320.9,124.5 330,117.3 330.1,117.8 338.4,110.3 346.7,104.5 355.1,100 363.5,96.1 371.8,93.9 380.2,92.8 388.5,91.1 396.9,89.4 405.3,86.9 413.6,84.9 422,83.2 428.7,83.6 437,86.6 447.1,91.1 458.8,96.9 472.2,107 485.6,117 497.3,128.7 505.6,137.9 514,147.1 522.4,154.6 530.7,162.2 539.1,170.5 549.1,178.5 557.5,186.9 565.8,196.9 574.2,204.4 584.2,210.3 594.3,214.5 600,215.3 604.3,217.3 608.4,218.6 616.7,220 625.1,221.2 633.5,222.8 643.5,224 656.9,225.3 666.9,228.7 675.3,231.5 683.6,233.7 692,235 700.4,236.5 708.7,236.2 717.1,235 723.8,235.4 733.8,238.7 742.2,242.9 750.5,246.2 758.9,248.8 767.3,251.3 775.6,253.8 784,255.4 792.4,256.3 800.7,255.4 809.1,253.4 817.4,252.4 825.8,252.4 834.2,252.9 842.5,255.1 850.9,257.1 857.6,258 862.6,260.5" fill="none" stroke="#3333ff" stroke-width="1.05"/>
<polyline points="68.4,171.5 74.2,170.6 80.1,167.6 86.8,169.3 93.5,174.3 100.1,183.5 106.8,191.9 113.5,198.2 120.2,200.3 126.9,198.6 131.9,191.9 138.6,184.4 145.3,183.5 150.3,176 155.3,169.8 162,173.2 168.7,175.5 175.4,179.3 182.1,183.2 188.8,183.5 195.5,182.2 202.2,175.2 210.5,163.5 218.9,153.4 224.8,142.5 230.6,136.4 237.3,133.7 244,131.3 252.4,127 260.7,125.7 270.8,124 277.4,123.4 284.1,117.8 290.8,108.6 297.5,100.3 304.2,90.3 310.9,80.2 317.6,71.9 324.3,67.7 330,64.3 330.1,64.3 338.4,67.7 346.7,70.2 355.1,73.9 363.5,71.9 370.1,73.9 376.8,82.7 383.5,88.6 388.5,91.9 393.6,97.3 398.6,98.9 404.4,93.6 410.3,87.2 416.1,91.6 422,89.4 427,93.6 432,105.3 437,117 442.1,127 447.1,139.6 452.1,148.5 457.1,150.5 463.8,150.1 468.8,155.5 475.5,158.8 480.5,163.8 485.6,174.3 490.6,188.5 497.3,201.9 502.3,217 509,232.9 515.7,240.4 525.7,239.2 532.4,232.9 539.1,227.8 545.8,222.8 549.1,221.5 555.8,227 562.5,231.7 567.5,236.2 572.5,242.1 578.4,247.4 584.2,240.4 590.9,232 597.6,217 600,212.8 604.3,207.8 606.7,203.6 613.4,196.1 619.2,191.1 625.1,194.4 631.8,197.7 636.8,203.6 641.8,213.6 648.5,225.3 655.2,238.7 661.9,254.6 668.6,267.2 675.3,274.7 682.8,278 688.6,270.5 695.3,262.1 702,255.4 707,252.1 712.1,242.9 717.9,239.6 723.8,243.7 730.5,251.3 736.3,257.1 742.2,266.3 747.2,271.3 753.9,268 760.6,260.5 765.6,252.9 770.6,245.4 777.3,243.4 782.3,241.7 787.3,238.7 792.4,242.1 799,245.4 804.9,242.4 810.8,242.4 815.8,244.6 820.8,247.9 827.5,257.1 834.2,267.2 840.9,276.4 845.9,281.9 850.9,283 855.9,280.5 862.6,282.2" fill="none" stroke="#ff3333" stroke-width="1.05"/>
<rect x="67" y="7" width="797" height="12" fill="#e6e6fa"/>
<rect x="67" y="328" width="798" height="12.5" fill="#e6e6fa"/>
<rect x="178" y="7" width="1" height="12" fill="#d4d4ec"/>
<rect x="178" y="328" width="1" height="12" fill="#d4d4ec"/>
<rect x="306" y="7" width="1" height="12" fill="#d4d4ec"/>
<rect x="306" y="328" width="1" height="12" fill="#d4d4ec"/>
<rect x="427" y="7" width="1" height="12" fill="#d4d4ec"/>
<rect x="427" y="328" width="1" height="12" fill="#d4d4ec"/>
<rect x="532" y="7" width="1" height="12" fill="#d4d4ec"/>
<rect x="532" y="328" width="1" height="12" fill="#d4d4ec"/>
<rect x="659" y="7" width="1" height="12" fill="#d4d4ec"/>
<rect x="659" y="328" width="1" height="12" fill="#d4d4ec"/>
<rect x="781" y="7" width="1" height="12" fill="#d4d4ec"/>
<rect x="781" y="328" width="1" height="12" fill="#d4d4ec"/>
<rect x="66" y="387" width="4" height="7.9" fill="#008000"/>
<rect x="72" y="387" width="4" height="2.9" fill="#008000"/>
<rect x="77" y="385.2" width="4" height="2.7" fill="#008000"/>
<rect x="83" y="382.3" width="4" height="5.6" fill="#008000"/>
<rect x="89" y="382.3" width="4" height="5.6" fill="#008000"/>
<rect x="95" y="385.2" width="4" height="2.7" fill="#008000"/>
<rect x="101" y="386" width="4" height="1.9" fill="#008000"/>
<rect x="106" y="387" width="4" height="4.9" fill="#008000"/>
<rect x="112" y="382.3" width="4" height="5.6" fill="#008000"/>
<rect x="118" y="387" width="4" height="1.9" fill="#008000"/>
<rect x="124" y="387" width="4" height="7.9" fill="#008000"/>
<rect x="130" y="387" width="4" height="5.9" fill="#008000"/>
<rect x="135" y="386" width="4" height="1.9" fill="#008000"/>
<rect x="147" y="387" width="4" height="6.9" fill="#008000"/>
<rect x="153" y="387" width="4" height="4.9" fill="#008000"/>
<rect x="159" y="387" width="4" height="5.9" fill="#008000"/>
<rect x="164" y="387" width="4" height="4.9" fill="#008000"/>
<rect x="170" y="387" width="4" height="3.9" fill="#008000"/>
<rect x="176" y="387" width="4" height="6.9" fill="#008000"/>
<rect x="182" y="382.3" width="4" height="5.6" fill="#008000"/>
<rect x="188" y="384.3" width="4" height="3.6" fill="#008000"/>
<rect x="193" y="387" width="4" height="5.9" fill="#008000"/>
<rect x="199" y="387" width="4" height="5.9" fill="#008000"/>
<rect x="216" y="383.2" width="4" height="4.7" fill="#008000"/>
<rect x="222" y="383.2" width="4" height="4.7" fill="#008000"/>
<rect x="228" y="381.3" width="4" height="6.6" fill="#008000"/>
<rect x="234" y="387" width="4" height="1.9" fill="#008000"/>
<rect x="245" y="382.3" width="4" height="5.6" fill="#008000"/>
<rect x="251" y="387" width="4" height="3.9" fill="#008000"/>
<rect x="257" y="387" width="4" height="5.9" fill="#008000"/>
<rect x="263" y="386" width="4" height="1.9" fill="#008000"/>
<rect x="269" y="386" width="4" height="1.9" fill="#008000"/>
<rect x="274" y="387" width="4" height="3.9" fill="#008000"/>
<rect x="280" y="387" width="4" height="1.9" fill="#008000"/>
<rect x="286" y="376.1" width="4" height="11.8" fill="#008000"/>
<rect x="292" y="367.1" width="4" height="20.8" fill="#008000"/>
<rect x="298" y="370.1" width="4" height="17.8" fill="#008000"/>
<rect x="303" y="372.1" width="4" height="15.8" fill="#008000"/>
<rect x="309" y="369.1" width="4" height="18.8" fill="#008000"/>
<rect x="315" y="361.1" width="4" height="26.8" fill="#008000"/>
<rect x="321" y="368.1" width="4" height="19.8" fill="#008000"/>
<rect x="327" y="377.2" width="4" height="10.7" fill="#008000"/>
<rect x="332" y="380.2" width="4" height="7.7" fill="#008000"/>
<rect x="338" y="377.2" width="4" height="10.7" fill="#008000"/>
<rect x="350" y="387" width="4" height="2.9" fill="#008000"/>
<rect x="361" y="387" width="4" height="2.9" fill="#008000"/>
<rect x="367" y="387" width="4" height="12.9" fill="#008000"/>
<rect x="373" y="387" width="4" height="10.9" fill="#008000"/>
<rect x="379" y="387" width="4" height="16.9" fill="#008000"/>
<rect x="385" y="387" width="4" height="9.9" fill="#008000"/>
<rect x="390" y="387" width="4" height="5.9" fill="#008000"/>
<rect x="402" y="386" width="4" height="1.9" fill="#008000"/>
<rect x="414" y="387" width="4" height="3.9" fill="#008000"/>
<rect x="419" y="387" width="4" height="2.9" fill="#008000"/>
<rect x="425" y="387" width="4" height="7.9" fill="#008000"/>
<rect x="431" y="387" width="4" height="1.9" fill="#008000"/>
<rect x="437" y="381.2" width="4" height="6.7" fill="#008000"/>
<rect x="443" y="387" width="4" height="2.9" fill="#008000"/>
<rect x="448" y="387" width="4" height="4.9" fill="#008000"/>
<rect x="454" y="383.2" width="4" height="4.7" fill="#008000"/>
<rect x="460" y="387" width="4" height="1.9" fill="#008000"/>
<rect x="466" y="384.2" width="4" height="3.7" fill="#008000"/>
<rect x="472" y="384.2" width="4" height="3.7" fill="#008000"/>
<rect x="477" y="380.2" width="4" height="7.7" fill="#008000"/>
<rect x="483" y="381.2" width="4" height="6.7" fill="#008000"/>
<rect x="489" y="381.2" width="4" height="6.7" fill="#008000"/>
<rect x="495" y="377.2" width="4" height="10.7" fill="#008000"/>
<rect x="501" y="380.2" width="4" height="7.7" fill="#008000"/>
<rect x="506" y="387" width="4" height="2.9" fill="#008000"/>
<rect x="512" y="385" width="4" height="2.9" fill="#008000"/>
<rect x="518" y="384.2" width="4" height="3.7" fill="#008000"/>
<rect x="524" y="387" width="4" height="1.9" fill="#008000"/>
<rect x="529" y="386" width="4" height="1.9" fill="#008000"/>
<rect x="535" y="387" width="4" height="3.9" fill="#008000"/>
<rect x="541" y="385" width="4" height="2.9" fill="#008000"/>
<rect x="547" y="382.2" width="4" height="5.7" fill="#008000"/>
<rect x="553" y="387" width="4" height="5.9" fill="#008000"/>
<rect x="558" y="387" width="4" height="8.9" fill="#008000"/>
<rect x="564" y="385" width="4" height="2.9" fill="#008000"/>
<rect x="570" y="379.2" width="4" height="8.7" fill="#008000"/>
<rect x="576" y="383.2" width="4" height="4.7" fill="#008000"/>
<rect x="582" y="380.2" width="4" height="7.7" fill="#008000"/>
<rect x="587" y="381.2" width="4" height="6.7" fill="#008000"/>
<rect x="593" y="378.2" width="4" height="9.7" fill="#008000"/>
<rect x="599" y="381.2" width="4" height="6.7" fill="#008000"/>
<rect x="605" y="377.2" width="4" height="10.7" fill="#008000"/>
<rect x="611" y="369.1" width="4" height="18.8" fill="#008000"/>
<rect x="616" y="374.1" width="4" height="13.8" fill="#008000"/>
<rect x="622" y="369.1" width="4" height="18.8" fill="#008000"/>
<rect x="628" y="363.1" width="4" height="24.8" fill="#008000"/>
<rect x="634" y="372.1" width="4" height="15.8" fill="#008000"/>
<rect x="640" y="379.2" width="4" height="8.7" fill="#008000"/>
<rect x="645" y="384.2" width="4" height="3.7" fill="#008000"/>
<rect x="651" y="387" width="4" height="7.9" fill="#008000"/>
<rect x="657" y="387" width="4" height="6.9" fill="#008000"/>
<rect x="663" y="387" width="4" height="12.9" fill="#008000"/>
<rect x="669" y="387" width="4" height="12.9" fill="#008000"/>
<rect x="674" y="384.2" width="4" height="3.7" fill="#008000"/>
<rect x="680" y="384.2" width="4" height="3.7" fill="#008000"/>
<rect x="698" y="387" width="4" height="3.9" fill="#008000"/>
<rect x="703" y="387" width="4" height="8.9" fill="#008000"/>
<rect x="709" y="387" width="4" height="4.9" fill="#008000"/>
<rect x="715" y="387" width="4" height="10.9" fill="#008000"/>
<rect x="721" y="387" width="4" height="15.9" fill="#008000"/>
<rect x="727" y="387" width="4" height="16.9" fill="#008000"/>
<rect x="732" y="387" width="4" height="22.9" fill="#008000"/>
<rect x="738" y="387" width="4" height="21.9" fill="#008000"/>
<rect x="744" y="387" width="4" height="15.9" fill="#008000"/>
<rect x="750" y="387" width="4" height="16.9" fill="#008000"/>
<rect x="756" y="387" width="4" height="17.9" fill="#008000"/>
<rect x="761" y="387" width="4" height="12.9" fill="#008000"/>
<rect x="767" y="387" width="4" height="5.9" fill="#008000"/>
<rect x="773" y="387" width="4" height="5.9" fill="#008000"/>
<rect x="779" y="387" width="4" height="6.9" fill="#008000"/>
<rect x="785" y="387" width="4" height="8.9" fill="#008000"/>
<rect x="790" y="387" width="4" height="15.9" fill="#008000"/>
<rect x="796" y="387" width="4" height="23.9" fill="#008000"/>
<rect x="802" y="387" width="4" height="22.9" fill="#008000"/>
<rect x="808" y="387" width="4" height="23.9" fill="#008000"/>
<rect x="813" y="387" width="4" height="30" fill="#008000"/>
<rect x="819" y="387" width="4" height="33" fill="#008000"/>
<rect x="825" y="387" width="4" height="23.9" fill="#008000"/>
<rect x="831" y="387" width="4" height="20.9" fill="#008000"/>
<rect x="837" y="387" width="4" height="14.9" fill="#008000"/>
<rect x="842" y="387" width="4" height="5.9" fill="#008000"/>
<rect x="848" y="387" width="4" height="1.9" fill="#008000"/>
<rect x="854" y="381.2" width="4" height="6.7" fill="#008000"/>
<rect x="860" y="386.2" width="4" height="1.7" fill="#008000"/>
<rect x="65" y="0" width="1.25" height="439" fill="#000"/>
<rect x="65" y="5" width="800" height="2" fill="#000"/>
<rect x="65" y="326" width="800" height="2" fill="#000"/>
<rect x="65" y="433" width="801" height="1" fill="#000"/>
<rect x="60" y="434" width="806" height="1" fill="#fff"/>
<rect x="65" y="435" width="801" height="1" fill="#000"/>
<rect x="66.5" y="436" width="798.5" height="3" fill="#e6e6fa"/>
<rect x="178" y="436" width="1" height="3" fill="#d4d4ec"/>
<rect x="306" y="436" width="1" height="3" fill="#d4d4ec"/>
<rect x="427" y="436" width="1" height="3" fill="#d4d4ec"/>
<rect x="532" y="436" width="1" height="3" fill="#d4d4ec"/>
<rect x="659" y="436" width="1" height="3" fill="#d4d4ec"/>
<rect x="781" y="436" width="1" height="3" fill="#d4d4ec"/>
<rect x="865" y="0" width="1" height="439" fill="#000"/>
<rect x="70.8" y="10.8" width="7" height="7" fill="#ff3333" stroke="#333" stroke-width="0.9"/>
<text x="82.6" y="17.9" font-family="Liberation Sans,Noto Sans CJK JP,sans-serif" font-size="10.8" fill="#000" textLength="68.5" lengthAdjust="spacingAndGlyphs">SMA (5): 9222</text>
<rect x="176.6" y="10.8" width="7" height="7" fill="#22ee22" stroke="#333" stroke-width="0.9"/>
<text x="188.4" y="17.9" font-family="Liberation Sans,Noto Sans CJK JP,sans-serif" font-size="10.8" fill="#000" textLength="74.8" lengthAdjust="spacingAndGlyphs">SMA (13): 9362</text>
<rect x="288.5" y="10.8" width="7" height="7" fill="#3333ff" stroke="#333" stroke-width="0.9"/>
<text x="300.2" y="17.9" font-family="Liberation Sans,Noto Sans CJK JP,sans-serif" font-size="10.8" fill="#000" textLength="74.6" lengthAdjust="spacingAndGlyphs">SMA (26): 9430</text>
<rect x="400.9" y="10.8" width="7" height="7" fill="#80ff80" stroke="#333" stroke-width="0.9"/>
<text x="412" y="17.9" font-family="Liberation Sans,Noto Sans CJK JP,sans-serif" font-size="10.8" fill="#000" textLength="141.3" lengthAdjust="spacingAndGlyphs">Bollinger (20, 2): 9066 - 9823</text>
<rect x="578.5" y="10.8" width="7" height="7" fill="#ff9999" stroke="#333" stroke-width="0.9"/>
<text x="590" y="17.9" font-family="Liberation Sans,Noto Sans CJK JP,sans-serif" font-size="10.8" fill="#000" textLength="54.2" lengthAdjust="spacingAndGlyphs">Vol: 64.07K</text>
<rect x="70.8" y="331.8" width="7" height="7" fill="#008000" stroke="#222" stroke-width="0.9"/>
<text x="82.6" y="339" font-family="Liberation Sans,Noto Sans CJK JP,sans-serif" font-size="10.8" fill="#000" textLength="152.2" lengthAdjust="spacingAndGlyphs">Chaikin Money Flow (21): 0.0161</text>
<rect x="861" y="6" width="4" height="1" fill="#000"/>
<text x="868.9" y="10.1" font-family="Liberation Sans,Noto Sans CJK JP,sans-serif" font-size="10.5" fill="#000">−400</text>
<rect x="861" y="32" width="4" height="1" fill="#000"/>
<text x="868.9" y="37.1" font-family="Liberation Sans,Noto Sans CJK JP,sans-serif" font-size="10.5" fill="#000">11600</text>
<rect x="861" y="53" width="4" height="1" fill="#000"/>
<text x="868.9" y="58.1" font-family="Liberation Sans,Noto Sans CJK JP,sans-serif" font-size="10.5" fill="#000">11400</text>
<rect x="861" y="74" width="4" height="1" fill="#000"/>
<text x="868.9" y="79.1" font-family="Liberation Sans,Noto Sans CJK JP,sans-serif" font-size="10.5" fill="#000">11200</text>
<rect x="861" y="95" width="4" height="1" fill="#000"/>
<text x="868.9" y="100.1" font-family="Liberation Sans,Noto Sans CJK JP,sans-serif" font-size="10.5" fill="#000">11000</text>
<rect x="861" y="116" width="4" height="1" fill="#000"/>
<text x="868.9" y="121.1" font-family="Liberation Sans,Noto Sans CJK JP,sans-serif" font-size="10.5" fill="#000">10800</text>
<rect x="861" y="137" width="4" height="1" fill="#000"/>
<text x="868.9" y="142.1" font-family="Liberation Sans,Noto Sans CJK JP,sans-serif" font-size="10.5" fill="#000">10600</text>
<rect x="861" y="158" width="4" height="1" fill="#000"/>
<text x="868.9" y="163.1" font-family="Liberation Sans,Noto Sans CJK JP,sans-serif" font-size="10.5" fill="#000">10400</text>
<rect x="861" y="179" width="4" height="1" fill="#000"/>
<text x="868.9" y="184.1" font-family="Liberation Sans,Noto Sans CJK JP,sans-serif" font-size="10.5" fill="#000">10200</text>
<rect x="861" y="200" width="4" height="1" fill="#000"/>
<text x="868.9" y="205.1" font-family="Liberation Sans,Noto Sans CJK JP,sans-serif" font-size="10.5" fill="#000">10000</text>
<rect x="861" y="221" width="4" height="1" fill="#000"/>
<text x="868.9" y="226.1" font-family="Liberation Sans,Noto Sans CJK JP,sans-serif" font-size="10.5" fill="#000">9800</text>
<rect x="861" y="242" width="4" height="1" fill="#000"/>
<text x="868.9" y="247.1" font-family="Liberation Sans,Noto Sans CJK JP,sans-serif" font-size="10.5" fill="#000">9600</text>
<rect x="861" y="263" width="4" height="1" fill="#000"/>
<text x="868.9" y="268.1" font-family="Liberation Sans,Noto Sans CJK JP,sans-serif" font-size="10.5" fill="#000">9400</text>
<rect x="861" y="284" width="4" height="1" fill="#000"/>
<text x="868.9" y="289.1" font-family="Liberation Sans,Noto Sans CJK JP,sans-serif" font-size="10.5" fill="#000">9200</text>
<rect x="861" y="305" width="4" height="1" fill="#000"/>
<text x="868.9" y="310.1" font-family="Liberation Sans,Noto Sans CJK JP,sans-serif" font-size="10.5" fill="#000">9000</text>
<rect x="861" y="325" width="4" height="1" fill="#000"/>
<text x="868.9" y="330.5" font-family="Liberation Sans,Noto Sans CJK JP,sans-serif" font-size="10.5" fill="#000">8800</text>
<rect x="861" y="340" width="4" height="1" fill="#000"/>
<text x="868.9" y="345.2" font-family="Liberation Sans,Noto Sans CJK JP,sans-serif" font-size="10.5" fill="#000">0.4</text>
<rect x="861" y="363" width="4" height="1" fill="#000"/>
<text x="868.9" y="367.8" font-family="Liberation Sans,Noto Sans CJK JP,sans-serif" font-size="10.5" fill="#000">0.2</text>
<rect x="861" y="386" width="4" height="1" fill="#000"/>
<text x="868.9" y="391" font-family="Liberation Sans,Noto Sans CJK JP,sans-serif" font-size="10.5" fill="#000">0</text>
<rect x="861" y="410" width="4" height="1" fill="#000"/>
<text x="868.9" y="414.8" font-family="Liberation Sans,Noto Sans CJK JP,sans-serif" font-size="10.5" fill="#000">−0.2</text>
<rect x="861" y="433" width="4" height="1" fill="#000"/>
<text x="868.9" y="437.8" font-family="Liberation Sans,Noto Sans CJK JP,sans-serif" font-size="10.5" fill="#000">−0.4</text>
<rect x="67" y="232" width="3" height="1" fill="#000"/>
<text x="62.2" y="236.8" text-anchor="end" font-family="Liberation Sans,Noto Sans CJK JP,sans-serif" font-size="10.5" fill="#000">150K</text>
<rect x="67" y="263" width="3" height="1" fill="#000"/>
<text x="62.2" y="267.5" text-anchor="end" font-family="Liberation Sans,Noto Sans CJK JP,sans-serif" font-size="10.5" fill="#000">100K</text>
<rect x="67" y="295" width="3" height="1" fill="#000"/>
<text x="62.2" y="299.3" text-anchor="end" font-family="Liberation Sans,Noto Sans CJK JP,sans-serif" font-size="10.5" fill="#000">50K</text>
<rect x="67" y="326" width="3" height="1" fill="#000"/>
<text x="62.2" y="330.5" text-anchor="end" font-family="Liberation Sans,Noto Sans CJK JP,sans-serif" font-size="10.5" fill="#000">0K</text>
</g>
<g stroke="#ed1c24" stroke-width="4.6" stroke-linecap="round" fill="none">
<line x1="849.5" y1="353.1" x2="904" y2="392.7"/><line x1="904" y1="392.7" x2="893.9" y2="368.9"/><line x1="904" y1="392.7" x2="878.9" y2="394"/></g>
<text x="922" y="380.3" font-family="Liberation Sans,Noto Sans CJK JP,sans-serif" font-size="20.9" fill="#ed1c24">CMFを積み上げる動きとは</text>
<text x="922" y="421" font-family="Liberation Sans,Noto Sans CJK JP,sans-serif" font-size="21.1" fill="#ed1c24">ならずに減少。再度マイテンか</text>
<text x="1166.3" y="790.7" font-family="Liberation Sans,Noto Sans CJK JP,sans-serif" font-size="21.2" fill="#111">レンジ上限にも到達できず</text>
<g id="dmi">
<text x="1125.2" y="13.2" font-family="Liberation Sans,Noto Sans CJK JP,sans-serif" font-size="11.5" font-weight="bold" fill="#111" textLength="24.4" lengthAdjust="spacingAndGlyphs">DMI</text>
<rect x="1108" y="147" width="10.5" height="1" fill="#d0d0d0"/><rect x="1118" y="147" width="1" height="159" fill="#d0d0d0"/>
<text x="1107.3" y="295" font-family="Liberation Sans,Noto Sans CJK JP,sans-serif" font-size="9.5" fill="#222">7</text>
<rect x="1120.5" y="16.8" width="294" height="136.2" fill="#fff" stroke="#c4c4c4" stroke-width="1.2"/>
<rect x="1120.5" y="153" width="294" height="152.3" fill="#fff" stroke="#c4c4c4" stroke-width="1.2"/>
<line x1="1152.7" y1="53.5" x2="1396.8" y2="53.5" stroke="#808080" stroke-width="0.8"/>
<line x1="1152.7" y1="77.4" x2="1396.8" y2="77.4" stroke="#808080" stroke-width="0.8"/>
<line x1="1152.7" y1="101.4" x2="1396.8" y2="101.4" stroke="#808080" stroke-width="0.8"/>
<polyline points="1153.9,107 1166.9,108.7 1183.6,105.4 1200.4,107 1217.1,100.4 1233.8,90.3 1239.7,83.6 1241.3,79.5 1243.8,82.8 1246.4,85.3 1248,73.6 1250.2,65.6 1253,64.4 1256.4,66.6 1259.2,67.7 1261.4,75.3 1263.1,85.3 1265.6,93.7 1270.6,107 1280.6,108.7 1287.3,104.5 1293.2,102 1298.2,100 1299.9,95.3 1301.6,88.6 1304.4,86.6 1307.4,90.3 1310.4,94.2 1313.3,92.5 1317.4,91.7 1322.5,91.2 1325.8,92.3 1328.8,80.3 1330,86.1 1333.3,88.3 1335.8,88.6 1338.4,84.5 1340.9,81.1 1343.9,80.6 1346.7,78.3 1349.2,87 1351.7,94.5 1354.2,96.2 1355.9,91.2 1358.4,105.4 1360.9,107.9 1365.1,102.4 1367.6,103.7 1371,108.4 1374.3,100.4 1376.8,99.5 1380,101.2" fill="none" stroke="#1a8a1a" stroke-width="1"/>
<polyline points="1153.9,70.6 1156.9,62.7 1159.9,63.9 1162.9,65.6 1166.1,68.9 1169.1,73.1 1172.1,66.9 1175.1,60.2 1178.1,66.6 1181.1,60.5 1184.1,70.6 1187.1,76.4 1190.3,74.4 1193.3,62.7 1196.3,65.6 1199.4,60.5 1202.4,67.2 1205.4,75.3 1208.4,69.9 1211.4,73.1 1214.4,80.6 1217.4,85.3 1220.4,78.3 1223.4,87 1226.5,82.3 1229.6,83.6 1232.6,87 1235.7,90.3 1238.7,93.7 1241.7,96.2 1244.7,97 1247.7,97.8 1250.7,98.7 1253.7,97 1256.7,95.3 1259.7,93.7 1262.7,90.3 1265.4,86.1 1268.1,82 1271.4,66.1 1274.5,59.4 1277.5,61.9 1280.6,54.9 1283.7,52.7 1286.7,63.9 1289.7,68.2 1292.7,78.3 1295.7,80.3 1298.7,84.1 1301.7,99.9 1304.7,107.4 1307.7,90.8 1310.8,82.8 1313.8,89 1316.8,85.3 1319.8,85.8 1322.8,86.1 1325.8,85.3 1328.8,90.3 1331.8,86.1 1334.8,83.1 1337.8,100.4 1340.9,111.2 1343.9,100.7 1346.9,105.4 1349.9,100.4 1352.9,98.7 1355.9,100.4 1358.9,85 1361.9,73.1 1364.9,81.1 1368,77.3 1371,74.4 1374,82.8 1377,82 1380,81.1" fill="none" stroke="#000080" stroke-width="1.1"/>
<rect x="1152.3" y="69" width="3.1" height="3.1" fill="#000080" transform="rotate(45 1153.9 70.6)"/>
<rect x="1155.3" y="61.2" width="3.1" height="3.1" fill="#000080" transform="rotate(45 1156.9 62.7)"/>
<rect x="1158.3" y="62.3" width="3.1" height="3.1" fill="#000080" transform="rotate(45 1159.9 63.9)"/>
<rect x="1161.3" y="64" width="3.1" height="3.1" fill="#000080" transform="rotate(45 1162.9 65.6)"/>
<rect x="1164.5" y="67.4" width="3.1" height="3.1" fill="#000080" transform="rotate(45 1166.1 68.9)"/>
<rect x="1167.5" y="71.5" width="3.1" height="3.1" fill="#000080" transform="rotate(45 1169.1 73.1)"/>
<rect x="1170.5" y="65.4" width="3.1" height="3.1" fill="#000080" transform="rotate(45 1172.1 66.9)"/>
<rect x="1173.6" y="58.7" width="3.1" height="3.1" fill="#000080" transform="rotate(45 1175.1 60.2)"/>
<rect x="1176.6" y="65" width="3.1" height="3.1" fill="#000080" transform="rotate(45 1178.1 66.6)"/>
<rect x="1179.6" y="59" width="3.1" height="3.1" fill="#000080" transform="rotate(45 1181.1 60.5)"/>
<rect x="1182.6" y="69" width="3.1" height="3.1" fill="#000080" transform="rotate(45 1184.1 70.6)"/>
<rect x="1185.6" y="74.9" width="3.1" height="3.1" fill="#000080" transform="rotate(45 1187.1 76.4)"/>
<rect x="1188.8" y="72.9" width="3.1" height="3.1" fill="#000080" transform="rotate(45 1190.3 74.4)"/>
<rect x="1191.8" y="61.2" width="3.1" height="3.1" fill="#000080" transform="rotate(45 1193.3 62.7)"/>
<rect x="1194.8" y="64" width="3.1" height="3.1" fill="#000080" transform="rotate(45 1196.3 65.6)"/>
<rect x="1197.8" y="59" width="3.1" height="3.1" fill="#000080" transform="rotate(45 1199.4 60.5)"/>
<rect x="1200.8" y="65.7" width="3.1" height="3.1" fill="#000080" transform="rotate(45 1202.4 67.2)"/>
<rect x="1203.8" y="73.7" width="3.1" height="3.1" fill="#000080" transform="rotate(45 1205.4 75.3)"/>
<rect x="1206.8" y="68.4" width="3.1" height="3.1" fill="#000080" transform="rotate(45 1208.4 69.9)"/>
<rect x="1209.8" y="71.5" width="3.1" height="3.1" fill="#000080" transform="rotate(45 1211.4 73.1)"/>
<rect x="1212.9" y="79.1" width="3.1" height="3.1" fill="#000080" transform="rotate(45 1214.4 80.6)"/>
<rect x="1215.9" y="83.8" width="3.1" height="3.1" fill="#000080" transform="rotate(45 1217.4 85.3)"/>
<rect x="1218.9" y="76.7" width="3.1" height="3.1" fill="#000080" transform="rotate(45 1220.4 78.3)"/>
<rect x="1221.9" y="85.4" width="3.1" height="3.1" fill="#000080" transform="rotate(45 1223.4 87)"/>
<rect x="1224.9" y="80.7" width="3.1" height="3.1" fill="#000080" transform="rotate(45 1226.5 82.3)"/>
<rect x="1228.1" y="82.1" width="3.1" height="3.1" fill="#000080" transform="rotate(45 1229.6 83.6)"/>
<rect x="1231.1" y="85.4" width="3.1" height="3.1" fill="#000080" transform="rotate(45 1232.6 87)"/>
<rect x="1234.1" y="88.8" width="3.1" height="3.1" fill="#000080" transform="rotate(45 1235.7 90.3)"/>
<rect x="1237.1" y="92.1" width="3.1" height="3.1" fill="#000080" transform="rotate(45 1238.7 93.7)"/>
<rect x="1240.1" y="94.6" width="3.1" height="3.1" fill="#000080" transform="rotate(45 1241.7 96.2)"/>
<rect x="1243.1" y="95.5" width="3.1" height="3.1" fill="#000080" transform="rotate(45 1244.7 97)"/>
<rect x="1246.1" y="96.3" width="3.1" height="3.1" fill="#000080" transform="rotate(45 1247.7 97.8)"/>
<rect x="1249.2" y="97.1" width="3.1" height="3.1" fill="#000080" transform="rotate(45 1250.7 98.7)"/>
<rect x="1252.2" y="95.5" width="3.1" height="3.1" fill="#000080" transform="rotate(45 1253.7 97)"/>
<rect x="1255.2" y="93.8" width="3.1" height="3.1" fill="#000080" transform="rotate(45 1256.7 95.3)"/>
<rect x="1258.2" y="92.1" width="3.1" height="3.1" fill="#000080" transform="rotate(45 1259.7 93.7)"/>
<rect x="1261.2" y="88.8" width="3.1" height="3.1" fill="#000080" transform="rotate(45 1262.7 90.3)"/>
<rect x="1263.9" y="84.6" width="3.1" height="3.1" fill="#000080" transform="rotate(45 1265.4 86.1)"/>
<rect x="1266.6" y="80.4" width="3.1" height="3.1" fill="#000080" transform="rotate(45 1268.1 82)"/>
<rect x="1269.9" y="64.5" width="3.1" height="3.1" fill="#000080" transform="rotate(45 1271.4 66.1)"/>
<rect x="1272.9" y="57.8" width="3.1" height="3.1" fill="#000080" transform="rotate(45 1274.5 59.4)"/>
<rect x="1275.9" y="60.3" width="3.1" height="3.1" fill="#000080" transform="rotate(45 1277.5 61.9)"/>
<rect x="1279.1" y="53.3" width="3.1" height="3.1" fill="#000080" transform="rotate(45 1280.6 54.9)"/>
<rect x="1282.1" y="51.1" width="3.1" height="3.1" fill="#000080" transform="rotate(45 1283.7 52.7)"/>
<rect x="1285.1" y="62.3" width="3.1" height="3.1" fill="#000080" transform="rotate(45 1286.7 63.9)"/>
<rect x="1288.1" y="66.7" width="3.1" height="3.1" fill="#000080" transform="rotate(45 1289.7 68.2)"/>
<rect x="1291.1" y="76.7" width="3.1" height="3.1" fill="#000080" transform="rotate(45 1292.7 78.3)"/>
<rect x="1294.1" y="78.7" width="3.1" height="3.1" fill="#000080" transform="rotate(45 1295.7 80.3)"/>
<rect x="1297.2" y="82.6" width="3.1" height="3.1" fill="#000080" transform="rotate(45 1298.7 84.1)"/>
<rect x="1300.2" y="98.3" width="3.1" height="3.1" fill="#000080" transform="rotate(45 1301.7 99.9)"/>
<rect x="1303.2" y="105.8" width="3.1" height="3.1" fill="#000080" transform="rotate(45 1304.7 107.4)"/>
<rect x="1306.2" y="89.3" width="3.1" height="3.1" fill="#000080" transform="rotate(45 1307.7 90.8)"/>
<rect x="1309.2" y="81.2" width="3.1" height="3.1" fill="#000080" transform="rotate(45 1310.8 82.8)"/>
<rect x="1312.2" y="87.4" width="3.1" height="3.1" fill="#000080" transform="rotate(45 1313.8 89)"/>
<rect x="1315.2" y="83.8" width="3.1" height="3.1" fill="#000080" transform="rotate(45 1316.8 85.3)"/>
<rect x="1318.2" y="84.3" width="3.1" height="3.1" fill="#000080" transform="rotate(45 1319.8 85.8)"/>
<rect x="1321.2" y="84.6" width="3.1" height="3.1" fill="#000080" transform="rotate(45 1322.8 86.1)"/>
<rect x="1324.3" y="83.8" width="3.1" height="3.1" fill="#000080" transform="rotate(45 1325.8 85.3)"/>
<rect x="1327.3" y="88.8" width="3.1" height="3.1" fill="#000080" transform="rotate(45 1328.8 90.3)"/>
<rect x="1330.3" y="84.6" width="3.1" height="3.1" fill="#000080" transform="rotate(45 1331.8 86.1)"/>
<rect x="1333.3" y="81.6" width="3.1" height="3.1" fill="#000080" transform="rotate(45 1334.8 83.1)"/>
<rect x="1336.3" y="98.8" width="3.1" height="3.1" fill="#000080" transform="rotate(45 1337.8 100.4)"/>
<rect x="1339.3" y="109.7" width="3.1" height="3.1" fill="#000080" transform="rotate(45 1340.9 111.2)"/>
<rect x="1342.3" y="99.1" width="3.1" height="3.1" fill="#000080" transform="rotate(45 1343.9 100.7)"/>
<rect x="1345.3" y="103.8" width="3.1" height="3.1" fill="#000080" transform="rotate(45 1346.9 105.4)"/>
<rect x="1348.3" y="98.8" width="3.1" height="3.1" fill="#000080" transform="rotate(45 1349.9 100.4)"/>
<rect x="1351.4" y="97.1" width="3.1" height="3.1" fill="#000080" transform="rotate(45 1352.9 98.7)"/>
<rect x="1354.4" y="98.8" width="3.1" height="3.1" fill="#000080" transform="rotate(45 1355.9 100.4)"/>
<rect x="1357.4" y="83.4" width="3.1" height="3.1" fill="#000080" transform="rotate(45 1358.9 85)"/>
<rect x="1360.4" y="71.5" width="3.1" height="3.1" fill="#000080" transform="rotate(45 1361.9 73.1)"/>
<rect x="1363.4" y="79.6" width="3.1" height="3.1" fill="#000080" transform="rotate(45 1364.9 81.1)"/>
<rect x="1366.4" y="75.7" width="3.1" height="3.1" fill="#000080" transform="rotate(45 1368 77.3)"/>
<rect x="1369.4" y="72.9" width="3.1" height="3.1" fill="#000080" transform="rotate(45 1371 74.4)"/>
<rect x="1372.4" y="81.2" width="3.1" height="3.1" fill="#000080" transform="rotate(45 1374 82.8)"/>
<rect x="1375.4" y="80.4" width="3.1" height="3.1" fill="#000080" transform="rotate(45 1377 82)"/>
<rect x="1378.5" y="79.6" width="3.1" height="3.1" fill="#000080" transform="rotate(45 1380 81.1)"/>
<rect x="1152.7" y="29.8" width="244.1" height="94.8" fill="none" stroke="#444" stroke-width="1"/>
<line x1="1152.7" y1="29.8" x2="1152.7" y2="124.6" stroke="#000" stroke-width="1.6"/>
<line x1="1152.7" y1="124.6" x2="1396.8" y2="124.6" stroke="#000" stroke-width="1.6"/>
<text x="1126.6" y="33.6" font-family="Liberation Sans,Noto Sans CJK JP,sans-serif" font-size="10.5" fill="#111">0.8</text>
<text x="1126.6" y="57.3" font-family="Liberation Sans,Noto Sans CJK JP,sans-serif" font-size="10.5" fill="#111">0.6</text>
<text x="1126.6" y="81.2" font-family="Liberation Sans,Noto Sans CJK JP,sans-serif" font-size="10.5" fill="#111">0.4</text>
<text x="1126.6" y="105.2" font-family="Liberation Sans,Noto Sans CJK JP,sans-serif" font-size="10.5" fill="#111">0.2</text>
<text x="1126.6" y="128.5" font-family="Liberation Sans,Noto Sans CJK JP,sans-serif" font-size="10.5" fill="#111">0.0</text>
<text x="1144.8" y="147.8" font-family="Liberation Sans,Noto Sans CJK JP,sans-serif" font-size="10.8" fill="#111" textLength="17.8" lengthAdjust="spacing">5/6</text>
<text x="1205" y="147.8" font-family="Liberation Sans,Noto Sans CJK JP,sans-serif" font-size="10.8" fill="#111" textLength="17.8" lengthAdjust="spacing">6/3</text>
<text x="1265.6" y="147.8" font-family="Liberation Sans,Noto Sans CJK JP,sans-serif" font-size="10.8" fill="#111" textLength="17.8" lengthAdjust="spacing">7/1</text>
<text x="1323.3" y="147.8" font-family="Liberation Sans,Noto Sans CJK JP,sans-serif" font-size="10.8" fill="#111" textLength="23.6" lengthAdjust="spacing">7/30</text>
<text x="1383.5" y="147.8" font-family="Liberation Sans,Noto Sans CJK JP,sans-serif" font-size="10.8" fill="#111" textLength="23.6" lengthAdjust="spacing">8/27</text>
<rect x="1154.6" y="86.6" width="139.5" height="41.5" fill="#d8d8d8" opacity="0.7"/>
<rect x="1153.4" y="85.4" width="139.5" height="41.5" fill="#fff" stroke="#d0d0d0" stroke-width="0.8"/>
<line x1="1162" y1="95.7" x2="1183.6" y2="95.7" stroke="#1a8a1a" stroke-width="1"/>
<text x="1187" y="101.6" font-family="Liberation Sans,Noto Sans CJK JP,sans-serif" font-size="11.4" fill="#000" stroke="#000" stroke-width="0.2" textLength="102" lengthAdjust="spacingAndGlyphs">＋DI（上昇トレンド）</text>
<line x1="1162" y1="116.6" x2="1183.6" y2="116.6" stroke="#000080" stroke-width="1"/>
<rect x="1171.5" y="115.3" width="2.6" height="2.6" fill="#000080" transform="rotate(45 1172.8 116.6)"/>
<text x="1187" y="122.8" font-family="Liberation Sans,Noto Sans CJK JP,sans-serif" font-size="11.4" fill="#000" stroke="#000" stroke-width="0.2" textLength="102" lengthAdjust="spacingAndGlyphs">－DI（下降トレンド）</text>
<line x1="1155.5" y1="186.8" x2="1382.5" y2="186.8" stroke="#808080" stroke-width="0.8"/>
<line x1="1155.5" y1="208.2" x2="1382.5" y2="208.2" stroke="#808080" stroke-width="0.8"/>
<line x1="1155.5" y1="229.8" x2="1382.5" y2="229.8" stroke="#808080" stroke-width="0.8"/>
<line x1="1155.5" y1="251.2" x2="1382.5" y2="251.2" stroke="#808080" stroke-width="0.8"/>
<polyline points="1156.9,265.4 1166.9,245.4 1174.4,231.1 1176.1,227.8 1178.6,224.5 1182,218.6 1184.5,216.1 1187,215.3 1190.3,211.1 1193.7,203.5 1197,194.3 1200.4,186.8 1203.7,184.3 1207,182.1 1209.6,181.3 1212.1,182.1 1215.4,186 1218.8,189.8 1222.1,198.5 1225.4,207.7 1228.8,216.9 1232.1,227.8 1233.8,232 1238.8,245.4 1243.8,252 1250.5,252 1257.2,245.4 1263.9,231.1 1267.3,221.9 1270.6,214.4 1274,211.1 1277.3,208.6 1279.8,204.4 1282.3,203.5 1284.8,201 1287.3,197.7 1290.7,195.2 1293.2,197.7 1296.5,202.7 1299,209.4 1301.6,219.4 1304.1,230.3 1306.6,239.5 1309.1,246.2 1312.4,251.2 1315.8,254.6 1319.1,256.2 1322.5,259.6 1325,262.1 1327.5,258.7 1330.8,253.7 1334.2,248.7 1337.5,245.7 1340.9,245.7 1344.2,245 1346.7,242 1349.2,236.7 1352.6,232 1355.9,230.3 1359.3,230.6 1361.8,231.1 1364.3,232.8 1367.1,231.1" fill="none" stroke="#1a8a1a" stroke-width="1.1"/>
<polyline points="1156.9,204.4 1159.7,193 1162.6,190.2 1165.2,188 1168.1,191 1170.9,184 1173.8,182.1 1176.6,173.8 1179.3,182.6 1182.1,179.8 1185,188.8 1187.8,194.3 1190.5,198.2 1193.3,194.3 1196.2,193.5 1199,193.5 1201.7,197.7 1204.5,206.1 1207.4,207.2 1210.2,207.2 1212.9,199.4 1215.7,210.2 1218.6,194.8 1221.4,202.7 1224.1,204.4 1227,209.9 1229.8,206.9 1232.6,203.9 1235.3,204.9 1238.2,202.7 1241,212.4 1243.8,213.6 1246.5,221.9 1249.4,223.9 1252.2,221.1 1255.1,221.6 1257.7,223.3 1260.6,226.6 1263.4,220.3 1266.3,222.8 1268.9,217.3 1271.8,217.3 1274.6,225.3 1277.5,218.3 1280.1,221.1 1283,214.9 1285.8,218.9 1288.7,220.3 1291.4,223.9 1294.2,221.1 1297,225 1299.9,216.1 1302.6,212.7 1305.4,217.3 1308.2,218.6 1311.1,217.8 1313.8,217.3 1316.6,219.1 1319.5,213.6 1322.3,221.9 1325,218.6 1327.8,225.3 1330.7,223.6 1333.5,222.3 1336.2,218.6 1339,226.1 1341.9,225 1344.7,219.9 1347.4,218.6 1350.2,213.6 1353.1,216.1 1355.9,214.1 1358.6,217.8 1361.4,221.1 1364.3,222.8 1367.1,218.9" fill="none" stroke="#000080" stroke-width="1.1"/>
<rect x="1155.3" y="202.8" width="3.1" height="3.1" fill="#000080" transform="rotate(45 1156.9 204.4)"/>
<rect x="1158.2" y="191.5" width="3.1" height="3.1" fill="#000080" transform="rotate(45 1159.7 193)"/>
<rect x="1161" y="188.6" width="3.1" height="3.1" fill="#000080" transform="rotate(45 1162.6 190.2)"/>
<rect x="1163.7" y="186.4" width="3.1" height="3.1" fill="#000080" transform="rotate(45 1165.2 188)"/>
<rect x="1166.5" y="189.4" width="3.1" height="3.1" fill="#000080" transform="rotate(45 1168.1 191)"/>
<rect x="1169.4" y="182.4" width="3.1" height="3.1" fill="#000080" transform="rotate(45 1170.9 184)"/>
<rect x="1172.2" y="180.6" width="3.1" height="3.1" fill="#000080" transform="rotate(45 1173.8 182.1)"/>
<rect x="1175.1" y="172.2" width="3.1" height="3.1" fill="#000080" transform="rotate(45 1176.6 173.8)"/>
<rect x="1177.7" y="181.1" width="3.1" height="3.1" fill="#000080" transform="rotate(45 1179.3 182.6)"/>
<rect x="1180.6" y="178.2" width="3.1" height="3.1" fill="#000080" transform="rotate(45 1182.1 179.8)"/>
<rect x="1183.4" y="187.3" width="3.1" height="3.1" fill="#000080" transform="rotate(45 1185 188.8)"/>
<rect x="1186.3" y="192.8" width="3.1" height="3.1" fill="#000080" transform="rotate(45 1187.8 194.3)"/>
<rect x="1188.9" y="196.6" width="3.1" height="3.1" fill="#000080" transform="rotate(45 1190.5 198.2)"/>
<rect x="1191.8" y="192.8" width="3.1" height="3.1" fill="#000080" transform="rotate(45 1193.3 194.3)"/>
<rect x="1194.6" y="192" width="3.1" height="3.1" fill="#000080" transform="rotate(45 1196.2 193.5)"/>
<rect x="1197.5" y="192" width="3.1" height="3.1" fill="#000080" transform="rotate(45 1199 193.5)"/>
<rect x="1200.1" y="196.1" width="3.1" height="3.1" fill="#000080" transform="rotate(45 1201.7 197.7)"/>
<rect x="1203" y="204.5" width="3.1" height="3.1" fill="#000080" transform="rotate(45 1204.5 206.1)"/>
<rect x="1205.8" y="205.7" width="3.1" height="3.1" fill="#000080" transform="rotate(45 1207.4 207.2)"/>
<rect x="1208.7" y="205.7" width="3.1" height="3.1" fill="#000080" transform="rotate(45 1210.2 207.2)"/>
<rect x="1211.4" y="197.8" width="3.1" height="3.1" fill="#000080" transform="rotate(45 1212.9 199.4)"/>
<rect x="1214.2" y="208.7" width="3.1" height="3.1" fill="#000080" transform="rotate(45 1215.7 210.2)"/>
<rect x="1217" y="193.3" width="3.1" height="3.1" fill="#000080" transform="rotate(45 1218.6 194.8)"/>
<rect x="1219.9" y="201.2" width="3.1" height="3.1" fill="#000080" transform="rotate(45 1221.4 202.7)"/>
<rect x="1222.6" y="202.8" width="3.1" height="3.1" fill="#000080" transform="rotate(45 1224.1 204.4)"/>
<rect x="1225.4" y="208.3" width="3.1" height="3.1" fill="#000080" transform="rotate(45 1227 209.9)"/>
<rect x="1228.2" y="205.3" width="3.1" height="3.1" fill="#000080" transform="rotate(45 1229.8 206.9)"/>
<rect x="1231.1" y="202.3" width="3.1" height="3.1" fill="#000080" transform="rotate(45 1232.6 203.9)"/>
<rect x="1233.8" y="203.3" width="3.1" height="3.1" fill="#000080" transform="rotate(45 1235.3 204.9)"/>
<rect x="1236.6" y="201.2" width="3.1" height="3.1" fill="#000080" transform="rotate(45 1238.2 202.7)"/>
<rect x="1239.5" y="210.9" width="3.1" height="3.1" fill="#000080" transform="rotate(45 1241 212.4)"/>
<rect x="1242.3" y="212" width="3.1" height="3.1" fill="#000080" transform="rotate(45 1243.8 213.6)"/>
<rect x="1245" y="220.4" width="3.1" height="3.1" fill="#000080" transform="rotate(45 1246.5 221.9)"/>
<rect x="1247.8" y="222.4" width="3.1" height="3.1" fill="#000080" transform="rotate(45 1249.4 223.9)"/>
<rect x="1250.7" y="219.6" width="3.1" height="3.1" fill="#000080" transform="rotate(45 1252.2 221.1)"/>
<rect x="1253.5" y="220.1" width="3.1" height="3.1" fill="#000080" transform="rotate(45 1255.1 221.6)"/>
<rect x="1256.2" y="221.7" width="3.1" height="3.1" fill="#000080" transform="rotate(45 1257.7 223.3)"/>
<rect x="1259" y="225.1" width="3.1" height="3.1" fill="#000080" transform="rotate(45 1260.6 226.6)"/>
<rect x="1261.9" y="218.7" width="3.1" height="3.1" fill="#000080" transform="rotate(45 1263.4 220.3)"/>
<rect x="1264.7" y="221.2" width="3.1" height="3.1" fill="#000080" transform="rotate(45 1266.3 222.8)"/>
<rect x="1267.4" y="215.7" width="3.1" height="3.1" fill="#000080" transform="rotate(45 1268.9 217.3)"/>
<rect x="1270.2" y="215.7" width="3.1" height="3.1" fill="#000080" transform="rotate(45 1271.8 217.3)"/>
<rect x="1273.1" y="223.7" width="3.1" height="3.1" fill="#000080" transform="rotate(45 1274.6 225.3)"/>
<rect x="1275.9" y="216.7" width="3.1" height="3.1" fill="#000080" transform="rotate(45 1277.5 218.3)"/>
<rect x="1278.6" y="219.6" width="3.1" height="3.1" fill="#000080" transform="rotate(45 1280.1 221.1)"/>
<rect x="1281.4" y="213.4" width="3.1" height="3.1" fill="#000080" transform="rotate(45 1283 214.9)"/>
<rect x="1284.3" y="217.4" width="3.1" height="3.1" fill="#000080" transform="rotate(45 1285.8 218.9)"/>
<rect x="1287.1" y="218.7" width="3.1" height="3.1" fill="#000080" transform="rotate(45 1288.7 220.3)"/>
<rect x="1289.8" y="222.4" width="3.1" height="3.1" fill="#000080" transform="rotate(45 1291.4 223.9)"/>
<rect x="1292.6" y="219.6" width="3.1" height="3.1" fill="#000080" transform="rotate(45 1294.2 221.1)"/>
<rect x="1295.5" y="223.4" width="3.1" height="3.1" fill="#000080" transform="rotate(45 1297 225)"/>
<rect x="1298.3" y="214.5" width="3.1" height="3.1" fill="#000080" transform="rotate(45 1299.9 216.1)"/>
<rect x="1301" y="211.2" width="3.1" height="3.1" fill="#000080" transform="rotate(45 1302.6 212.7)"/>
<rect x="1303.9" y="215.7" width="3.1" height="3.1" fill="#000080" transform="rotate(45 1305.4 217.3)"/>
<rect x="1306.7" y="217" width="3.1" height="3.1" fill="#000080" transform="rotate(45 1308.2 218.6)"/>
<rect x="1309.5" y="216.2" width="3.1" height="3.1" fill="#000080" transform="rotate(45 1311.1 217.8)"/>
<rect x="1312.2" y="215.7" width="3.1" height="3.1" fill="#000080" transform="rotate(45 1313.8 217.3)"/>
<rect x="1315.1" y="217.5" width="3.1" height="3.1" fill="#000080" transform="rotate(45 1316.6 219.1)"/>
<rect x="1317.9" y="212" width="3.1" height="3.1" fill="#000080" transform="rotate(45 1319.5 213.6)"/>
<rect x="1320.7" y="220.4" width="3.1" height="3.1" fill="#000080" transform="rotate(45 1322.3 221.9)"/>
<rect x="1323.4" y="217" width="3.1" height="3.1" fill="#000080" transform="rotate(45 1325 218.6)"/>
<rect x="1326.3" y="223.7" width="3.1" height="3.1" fill="#000080" transform="rotate(45 1327.8 225.3)"/>
<rect x="1329.1" y="222.1" width="3.1" height="3.1" fill="#000080" transform="rotate(45 1330.7 223.6)"/>
<rect x="1332" y="220.7" width="3.1" height="3.1" fill="#000080" transform="rotate(45 1333.5 222.3)"/>
<rect x="1334.6" y="217" width="3.1" height="3.1" fill="#000080" transform="rotate(45 1336.2 218.6)"/>
<rect x="1337.5" y="224.6" width="3.1" height="3.1" fill="#000080" transform="rotate(45 1339 226.1)"/>
<rect x="1340.3" y="223.4" width="3.1" height="3.1" fill="#000080" transform="rotate(45 1341.9 225)"/>
<rect x="1343.2" y="218.4" width="3.1" height="3.1" fill="#000080" transform="rotate(45 1344.7 219.9)"/>
<rect x="1345.8" y="217" width="3.1" height="3.1" fill="#000080" transform="rotate(45 1347.4 218.6)"/>
<rect x="1348.7" y="212" width="3.1" height="3.1" fill="#000080" transform="rotate(45 1350.2 213.6)"/>
<rect x="1351.5" y="214.5" width="3.1" height="3.1" fill="#000080" transform="rotate(45 1353.1 216.1)"/>
<rect x="1354.4" y="212.5" width="3.1" height="3.1" fill="#000080" transform="rotate(45 1355.9 214.1)"/>
<rect x="1357" y="216.2" width="3.1" height="3.1" fill="#000080" transform="rotate(45 1358.6 217.8)"/>
<rect x="1359.9" y="219.6" width="3.1" height="3.1" fill="#000080" transform="rotate(45 1361.4 221.1)"/>
<rect x="1362.7" y="221.2" width="3.1" height="3.1" fill="#000080" transform="rotate(45 1364.3 222.8)"/>
<rect x="1365.6" y="217.4" width="3.1" height="3.1" fill="#000080" transform="rotate(45 1367.1 218.9)"/>
<rect x="1155.5" y="165.4" width="227" height="107.5" fill="none" stroke="#000" stroke-width="1.3"/>
<line x1="1379.5" y1="193.3" x2="1382.5" y2="193.3" stroke="#555" stroke-width="0.8"/>
<line x1="1379.5" y1="218.9" x2="1382.5" y2="218.9" stroke="#555" stroke-width="0.8"/>
<line x1="1379.5" y1="246.1" x2="1382.5" y2="246.1" stroke="#555" stroke-width="0.8"/>
<text x="1145.3" y="169.7" text-anchor="end" font-family="Liberation Sans,Noto Sans CJK JP,sans-serif" font-size="10.5" fill="#111">300</text>
<text x="1145.3" y="191.1" text-anchor="end" font-family="Liberation Sans,Noto Sans CJK JP,sans-serif" font-size="10.5" fill="#111">250</text>
<text x="1145.3" y="212.5" text-anchor="end" font-family="Liberation Sans,Noto Sans CJK JP,sans-serif" font-size="10.5" fill="#111">200</text>
<text x="1145.3" y="234.1" text-anchor="end" font-family="Liberation Sans,Noto Sans CJK JP,sans-serif" font-size="10.5" fill="#111">150</text>
<text x="1145.3" y="255.5" text-anchor="end" font-family="Liberation Sans,Noto Sans CJK JP,sans-serif" font-size="10.5" fill="#111">100</text>
<text x="1145.3" y="277" text-anchor="end" font-family="Liberation Sans,Noto Sans CJK JP,sans-serif" font-size="10.5" fill="#111">50</text>
<text x="1392.5" y="169.8" font-family="Liberation Sans,Noto Sans CJK JP,sans-serif" font-size="10.5" fill="#111">0.8</text>
<text x="1392.5" y="197.1" font-family="Liberation Sans,Noto Sans CJK JP,sans-serif" font-size="10.5" fill="#111">0.6</text>
<text x="1392.5" y="222.7" font-family="Liberation Sans,Noto Sans CJK JP,sans-serif" font-size="10.5" fill="#111">0.4</text>
<text x="1392.5" y="249.9" font-family="Liberation Sans,Noto Sans CJK JP,sans-serif" font-size="10.5" fill="#111">0.2</text>
<text x="1392.5" y="276.9" font-family="Liberation Sans,Noto Sans CJK JP,sans-serif" font-size="10.5" fill="#111">0.0</text>
<text x="1148.5" y="296.2" font-family="Liberation Sans,Noto Sans CJK JP,sans-serif" font-size="10.8" fill="#111" textLength="16.8" lengthAdjust="spacing">5/6</text>
<text x="1204" y="296.2" font-family="Liberation Sans,Noto Sans CJK JP,sans-serif" font-size="10.8" fill="#111" textLength="16.8" lengthAdjust="spacing">6/3</text>
<text x="1260.9" y="296.2" font-family="Liberation Sans,Noto Sans CJK JP,sans-serif" font-size="10.8" fill="#111" textLength="16.8" lengthAdjust="spacing">7/1</text>
<text x="1313.3" y="296.2" font-family="Liberation Sans,Noto Sans CJK JP,sans-serif" font-size="10.8" fill="#111" textLength="23" lengthAdjust="spacing">7/30</text>
<text x="1369.9" y="296.2" font-family="Liberation Sans,Noto Sans CJK JP,sans-serif" font-size="10.8" fill="#111" textLength="23" lengthAdjust="spacing">8/27</text>
<rect x="1154.4" y="231.1" width="133.3" height="46.5" fill="#fff" stroke="#a8a8a8" stroke-width="0.9"/>
<line x1="1158.2" y1="243.2" x2="1180.3" y2="243.2" stroke="#000080" stroke-width="1"/>
<rect x="1168" y="241.9" width="2.6" height="2.6" fill="#000080" transform="rotate(45 1169.3 243.2)"/>
<text x="1183.4" y="248.2" font-family="Liberation Sans,Noto Sans CJK JP,sans-serif" font-size="11.4" fill="#000" stroke="#000" stroke-width="0.2" textLength="104" lengthAdjust="spacingAndGlyphs">ATR（ボラティリティ）</text>
<line x1="1158.2" y1="265.8" x2="1180.3" y2="265.8" stroke="#1a8a1a" stroke-width="1.1"/>
<text x="1183.4" y="271" font-family="Liberation Sans,Noto Sans CJK JP,sans-serif" font-size="11.4" fill="#000" stroke="#000" stroke-width="0.2" textLength="74" lengthAdjust="spacingAndGlyphs">ADX（トレンド）</text>
</g>
<g id="bot">
<g shape-rendering="crispEdges">
<rect x="77" y="484" width="1075" height="14" fill="#b3d1ff"/>
<rect x="77" y="536" width="286" height="3" fill="#b3d1ff"/>
<rect x="77" y="592" width="72" height="48" fill="#b3d1ff"/>
<rect x="148" y="592" width="19" height="23" fill="#b3d1ff"/>
<rect x="167" y="592" width="142" height="11" fill="#b3d1ff"/>
<rect x="184" y="629" width="73" height="44" fill="#b3d1ff"/>
<rect x="257" y="629" width="16" height="29" fill="#b3d1ff"/>
<rect x="399" y="562" width="753" height="28" fill="#b3d1ff"/>
<rect x="399" y="590" width="19" height="9" fill="#b3d1ff"/>
<rect x="435" y="622" width="717" height="28" fill="#b3d1ff"/>
<rect x="1007" y="731" width="145" height="18" fill="#b3d1ff"/>
<rect x="703" y="686" width="125" height="9" fill="#b3d1ff"/>
<rect x="918" y="695" width="19" height="7" fill="#b3d1ff"/>
<rect x="488" y="719" width="109" height="37" fill="#b3d1ff"/>
<rect x="597" y="719" width="18" height="1" fill="#b3d1ff"/>
<rect x="506" y="776" width="55" height="15" fill="#b3d1ff"/>
<rect x="721" y="763" width="18" height="5" fill="#b3d1ff"/>
<rect x="1025" y="794" width="19" height="20" fill="#b3d1ff"/>
<rect x="1044" y="794" width="71" height="2" fill="#b3d1ff"/>
<rect x="77" y="677" width="36" height="17" fill="#ffb3b3"/>
<rect x="113" y="688" width="18" height="6" fill="#ffb3b3"/>
<rect x="256" y="684" width="215" height="37" fill="#ffb3b3"/>
<rect x="471" y="719" width="17" height="2" fill="#ffb3b3"/>
<rect x="273" y="643" width="162" height="16" fill="#ffb3b3"/>
<rect x="309" y="582" width="19" height="36" fill="#ffb3b3"/>
<rect x="328" y="595" width="18" height="23" fill="#ffb3b3"/>
<rect x="346" y="601" width="53" height="17" fill="#ffb3b3"/>
<rect x="399" y="616" width="18" height="2" fill="#ffb3b3"/>
<rect x="363" y="562" width="36" height="22" fill="#ffb3b3"/>
<rect x="667" y="678" width="18" height="19" fill="#ffb3b3"/>
<rect x="685" y="686" width="18" height="11" fill="#ffb3b3"/>
<rect x="596" y="745" width="107" height="37" fill="#ffb3b3"/>
<rect x="703" y="763" width="19" height="19" fill="#ffb3b3"/>
<rect x="775" y="770" width="232" height="33" fill="#ffb3b3"/>
<rect x="1007" y="794" width="18" height="9" fill="#ffb3b3"/>
<rect x="793" y="735" width="126" height="6" fill="#ffb3b3"/>
<rect x="919" y="740" width="88" height="1" fill="#ffb3b3"/>
<rect x="828" y="701" width="36" height="21" fill="#ffb3b3"/>
</g>
<g stroke="#000" stroke-width="1" stroke-dasharray="1 5" shape-rendering="crispEdges">
<line x1="77" y1="535.5" x2="1152" y2="535.5"/>
<line x1="77" y1="592.5" x2="1152" y2="592.5"/>
<line x1="77" y1="648.5" x2="1152" y2="648.5"/>
<line x1="77" y1="705.5" x2="1152" y2="705.5"/>
<line x1="77" y1="761.5" x2="1152" y2="761.5"/>
<line x1="77" y1="818.5" x2="1152" y2="818.5"/>
<line x1="84.5" y1="489" x2="84.5" y2="892"/><line x1="84.5" y1="903" x2="84.5" y2="911"/>
<line x1="137.5" y1="489" x2="137.5" y2="892"/><line x1="137.5" y1="903" x2="137.5" y2="911"/>
<line x1="191.5" y1="489" x2="191.5" y2="892"/><line x1="191.5" y1="903" x2="191.5" y2="911"/>
<line x1="245.5" y1="489" x2="245.5" y2="892"/><line x1="245.5" y1="903" x2="245.5" y2="911"/>
<line x1="298.5" y1="489" x2="298.5" y2="892"/><line x1="298.5" y1="903" x2="298.5" y2="911"/>
<line x1="352.5" y1="489" x2="352.5" y2="892"/><line x1="352.5" y1="903" x2="352.5" y2="911"/>
<line x1="406.5" y1="489" x2="406.5" y2="892"/><line x1="406.5" y1="903" x2="406.5" y2="911"/>
<line x1="459.5" y1="489" x2="459.5" y2="892"/><line x1="459.5" y1="903" x2="459.5" y2="911"/>
<line x1="513.5" y1="489" x2="513.5" y2="892"/><line x1="513.5" y1="903" x2="513.5" y2="911"/>
<line x1="567.5" y1="489" x2="567.5" y2="892"/><line x1="567.5" y1="903" x2="567.5" y2="911"/>
<line x1="621.5" y1="489" x2="621.5" y2="892"/><line x1="621.5" y1="903" x2="621.5" y2="911"/>
<line x1="674.5" y1="489" x2="674.5" y2="892"/><line x1="674.5" y1="903" x2="674.5" y2="911"/>
<line x1="728.5" y1="489" x2="728.5" y2="892"/><line x1="728.5" y1="903" x2="728.5" y2="911"/>
<line x1="782.5" y1="489" x2="782.5" y2="892"/><line x1="782.5" y1="903" x2="782.5" y2="911"/>
<line x1="835.5" y1="489" x2="835.5" y2="892"/><line x1="835.5" y1="903" x2="835.5" y2="911"/>
<line x1="889.5" y1="489" x2="889.5" y2="892"/><line x1="889.5" y1="903" x2="889.5" y2="911"/>
<line x1="943.5" y1="489" x2="943.5" y2="892"/><line x1="943.5" y1="903" x2="943.5" y2="911"/>
<line x1="996.5" y1="489" x2="996.5" y2="892"/><line x1="996.5" y1="903" x2="996.5" y2="911"/>
<line x1="1050.5" y1="489" x2="1050.5" y2="892"/><line x1="1050.5" y1="903" x2="1050.5" y2="911"/>
<line x1="1104.5" y1="489" x2="1104.5" y2="892"/><line x1="1104.5" y1="903" x2="1104.5" y2="911"/>
</g>
<text x="72.3" y="540.8" text-anchor="end" font-family="Liberation Sans,Noto Sans CJK JP,sans-serif" font-size="10.6" fill="#000" textLength="35.4" lengthAdjust="spacing">10,200</text>
<text x="72.3" y="597.8" text-anchor="end" font-family="Liberation Sans,Noto Sans CJK JP,sans-serif" font-size="10.6" fill="#000" textLength="35.4" lengthAdjust="spacing">10,000</text>
<text x="72.3" y="653.8" text-anchor="end" font-family="Liberation Sans,Noto Sans CJK JP,sans-serif" font-size="10.6" fill="#000" textLength="29.5" lengthAdjust="spacing">9,800</text>
<text x="72.3" y="710.3" text-anchor="end" font-family="Liberation Sans,Noto Sans CJK JP,sans-serif" font-size="10.6" fill="#000" textLength="29.5" lengthAdjust="spacing">9,600</text>
<text x="72.3" y="766.8" text-anchor="end" font-family="Liberation Sans,Noto Sans CJK JP,sans-serif" font-size="10.6" fill="#000" textLength="29.5" lengthAdjust="spacing">9,400</text>
<text x="72.3" y="823.6" text-anchor="end" font-family="Liberation Sans,Noto Sans CJK JP,sans-serif" font-size="10.6" fill="#000" textLength="29.5" lengthAdjust="spacing">9,200</text>
<text x="84.8" y="898.7" font-family="Liberation Sans,Noto Sans CJK JP,sans-serif" font-size="8" font-weight="bold" fill="#000" textLength="23.3" lengthAdjust="spacing">05/28</text>
<text x="137.8" y="898.7" font-family="Liberation Sans,Noto Sans CJK JP,sans-serif" font-size="8" font-weight="bold" fill="#000" textLength="23.3" lengthAdjust="spacing">06/02</text>
<text x="191.8" y="898.7" font-family="Liberation Sans,Noto Sans CJK JP,sans-serif" font-size="8" font-weight="bold" fill="#000" textLength="23.3" lengthAdjust="spacing">06/07</text>
<text x="245.8" y="898.7" font-family="Liberation Sans,Noto Sans CJK JP,sans-serif" font-size="8" font-weight="bold" fill="#000" textLength="23.3" lengthAdjust="spacing">06/10</text>
<text x="298.8" y="898.7" font-family="Liberation Sans,Noto Sans CJK JP,sans-serif" font-size="8" font-weight="bold" fill="#000" textLength="23.3" lengthAdjust="spacing">06/15</text>
<text x="352.8" y="898.7" font-family="Liberation Sans,Noto Sans CJK JP,sans-serif" font-size="8" font-weight="bold" fill="#000" textLength="23.3" lengthAdjust="spacing">06/18</text>
<text x="406.8" y="898.7" font-family="Liberation Sans,Noto Sans CJK JP,sans-serif" font-size="8" font-weight="bold" fill="#000" textLength="23.3" lengthAdjust="spacing">06/23</text>
<text x="459.8" y="898.7" font-family="Liberation Sans,Noto Sans CJK JP,sans-serif" font-size="8" font-weight="bold" fill="#000" textLength="23.3" lengthAdjust="spacing">06/28</text>
<text x="513.8" y="898.7" font-family="Liberation Sans,Noto Sans CJK JP,sans-serif" font-size="8" font-weight="bold" fill="#000" textLength="23.3" lengthAdjust="spacing">07/01</text>
<text x="567.8" y="898.7" font-family="Liberation Sans,Noto Sans CJK JP,sans-serif" font-size="8" font-weight="bold" fill="#000" textLength="23.3" lengthAdjust="spacing">07/06</text>
<text x="621.8" y="898.7" font-family="Liberation Sans,Noto Sans CJK JP,sans-serif" font-size="8" font-weight="bold" fill="#000" textLength="23.3" lengthAdjust="spacing">07/09</text>
<text x="674.8" y="898.7" font-family="Liberation Sans,Noto Sans CJK JP,sans-serif" font-size="8" font-weight="bold" fill="#000" textLength="23.3" lengthAdjust="spacing">07/14</text>
<text x="728.8" y="898.7" font-family="Liberation Sans,Noto Sans CJK JP,sans-serif" font-size="8" font-weight="bold" fill="#000" textLength="23.3" lengthAdjust="spacing">07/20</text>
<text x="782.8" y="898.7" font-family="Liberation Sans,Noto Sans CJK JP,sans-serif" font-size="8" font-weight="bold" fill="#000" textLength="23.3" lengthAdjust="spacing">07/23</text>
<text x="835.8" y="898.7" font-family="Liberation Sans,Noto Sans CJK JP,sans-serif" font-size="8" font-weight="bold" fill="#000" textLength="23.3" lengthAdjust="spacing">07/28</text>
<text x="889.8" y="898.7" font-family="Liberation Sans,Noto Sans CJK JP,sans-serif" font-size="8" font-weight="bold" fill="#000" textLength="23.3" lengthAdjust="spacing">08/02</text>
<text x="943.8" y="898.7" font-family="Liberation Sans,Noto Sans CJK JP,sans-serif" font-size="8" font-weight="bold" fill="#000" textLength="23.3" lengthAdjust="spacing">08/05</text>
<text x="996.8" y="898.7" font-family="Liberation Sans,Noto Sans CJK JP,sans-serif" font-size="8" font-weight="bold" fill="#000" textLength="23.3" lengthAdjust="spacing">08/10</text>
<text x="1050.8" y="898.7" font-family="Liberation Sans,Noto Sans CJK JP,sans-serif" font-size="8" font-weight="bold" fill="#000" textLength="23.3" lengthAdjust="spacing">08/13</text>
<text x="1104.8" y="898.7" font-family="Liberation Sans,Noto Sans CJK JP,sans-serif" font-size="8" font-weight="bold" fill="#000" textLength="23.3" lengthAdjust="spacing">08/18</text>
<rect x="82.3" y="610.1" width="4.4" height="4.4" fill="none" stroke="#ffa500" stroke-width="1.35" stroke-linejoin="round" transform="rotate(45 84.5 612.3)"/>
<rect x="99.3" y="760.1" width="4.4" height="4.4" fill="none" stroke="#ffa500" stroke-width="1.35" stroke-linejoin="round" transform="rotate(45 101.5 762.3)"/>
<rect x="117.3" y="758.2" width="4.4" height="4.4" fill="none" stroke="#ffa500" stroke-width="1.35" stroke-linejoin="round" transform="rotate(45 119.5 760.4)"/>
<rect x="135.3" y="756.1" width="4.4" height="4.4" fill="none" stroke="#ffa500" stroke-width="1.35" stroke-linejoin="round" transform="rotate(45 137.5 758.3)"/>
<rect x="153.3" y="753.3" width="4.4" height="4.4" fill="none" stroke="#ffa500" stroke-width="1.35" stroke-linejoin="round" transform="rotate(45 155.5 755.5)"/>
<rect x="171.3" y="748.4" width="4.4" height="4.4" fill="none" stroke="#ffa500" stroke-width="1.35" stroke-linejoin="round" transform="rotate(45 173.5 750.6)"/>
<rect x="189.3" y="739.1" width="4.4" height="4.4" fill="none" stroke="#ffa500" stroke-width="1.35" stroke-linejoin="round" transform="rotate(45 191.5 741.3)"/>
<rect x="207.3" y="600.4" width="4.4" height="4.4" fill="none" stroke="#ffa500" stroke-width="1.35" stroke-linejoin="round" transform="rotate(45 209.5 602.6)"/>
<rect x="225.3" y="603.3" width="4.4" height="4.4" fill="none" stroke="#ffa500" stroke-width="1.35" stroke-linejoin="round" transform="rotate(45 227.5 605.5)"/>
<rect x="243.3" y="610.1" width="4.4" height="4.4" fill="none" stroke="#ffa500" stroke-width="1.35" stroke-linejoin="round" transform="rotate(45 245.5 612.3)"/>
<rect x="261.3" y="616.5" width="4.4" height="4.4" fill="none" stroke="#ffa500" stroke-width="1.35" stroke-linejoin="round" transform="rotate(45 263.5 618.7)"/>
<rect x="278.3" y="622.3" width="4.4" height="4.4" fill="none" stroke="#ffa500" stroke-width="1.35" stroke-linejoin="round" transform="rotate(45 280.5 624.5)"/>
<rect x="296.3" y="765.5" width="4.4" height="4.4" fill="none" stroke="#ffa500" stroke-width="1.35" stroke-linejoin="round" transform="rotate(45 298.5 767.7)"/>
<rect x="314.3" y="762.1" width="4.4" height="4.4" fill="none" stroke="#ffa500" stroke-width="1.35" stroke-linejoin="round" transform="rotate(45 316.5 764.3)"/>
<rect x="332.3" y="754.4" width="4.4" height="4.4" fill="none" stroke="#ffa500" stroke-width="1.35" stroke-linejoin="round" transform="rotate(45 334.5 756.6)"/>
<rect x="350.3" y="746.1" width="4.4" height="4.4" fill="none" stroke="#ffa500" stroke-width="1.35" stroke-linejoin="round" transform="rotate(45 352.5 748.3)"/>
<rect x="368.3" y="739.1" width="4.4" height="4.4" fill="none" stroke="#ffa500" stroke-width="1.35" stroke-linejoin="round" transform="rotate(45 370.5 741.3)"/>
<rect x="386.3" y="726.1" width="4.4" height="4.4" fill="none" stroke="#ffa500" stroke-width="1.35" stroke-linejoin="round" transform="rotate(45 388.5 728.3)"/>
<rect x="404.3" y="713.1" width="4.4" height="4.4" fill="none" stroke="#ffa500" stroke-width="1.35" stroke-linejoin="round" transform="rotate(45 406.5 715.3)"/>
<rect x="422.3" y="700.9" width="4.4" height="4.4" fill="none" stroke="#ffa500" stroke-width="1.35" stroke-linejoin="round" transform="rotate(45 424.5 703.1)"/>
<rect x="440.3" y="690.4" width="4.4" height="4.4" fill="none" stroke="#ffa500" stroke-width="1.35" stroke-linejoin="round" transform="rotate(45 442.5 692.6)"/>
<rect x="457.3" y="519.4" width="4.4" height="4.4" fill="none" stroke="#ffa500" stroke-width="1.35" stroke-linejoin="round" transform="rotate(45 459.5 521.6)"/>
<rect x="475.3" y="522.2" width="4.4" height="4.4" fill="none" stroke="#ffa500" stroke-width="1.35" stroke-linejoin="round" transform="rotate(45 477.5 524.4)"/>
<rect x="493.3" y="530.1" width="4.4" height="4.4" fill="none" stroke="#ffa500" stroke-width="1.35" stroke-linejoin="round" transform="rotate(45 495.5 532.3)"/>
<rect x="511.3" y="544.1" width="4.4" height="4.4" fill="none" stroke="#ffa500" stroke-width="1.35" stroke-linejoin="round" transform="rotate(45 513.5 546.3)"/>
<rect x="529.3" y="567.1" width="4.4" height="4.4" fill="none" stroke="#ffa500" stroke-width="1.35" stroke-linejoin="round" transform="rotate(45 531.5 569.3)"/>
<rect x="547.3" y="587.8" width="4.4" height="4.4" fill="none" stroke="#ffa500" stroke-width="1.35" stroke-linejoin="round" transform="rotate(45 549.5 590)"/>
<rect x="565.3" y="608.2" width="4.4" height="4.4" fill="none" stroke="#ffa500" stroke-width="1.35" stroke-linejoin="round" transform="rotate(45 567.5 610.4)"/>
<rect x="583.3" y="631.2" width="4.4" height="4.4" fill="none" stroke="#ffa500" stroke-width="1.35" stroke-linejoin="round" transform="rotate(45 585.5 633.4)"/>
<rect x="601.3" y="653.4" width="4.4" height="4.4" fill="none" stroke="#ffa500" stroke-width="1.35" stroke-linejoin="round" transform="rotate(45 603.5 655.6)"/>
<rect x="619.3" y="672.3" width="4.4" height="4.4" fill="none" stroke="#ffa500" stroke-width="1.35" stroke-linejoin="round" transform="rotate(45 621.5 674.5)"/>
<rect x="636.3" y="690.4" width="4.4" height="4.4" fill="none" stroke="#ffa500" stroke-width="1.35" stroke-linejoin="round" transform="rotate(45 638.5 692.6)"/>
<rect x="654.3" y="846.1" width="4.4" height="4.4" fill="none" stroke="#ffa500" stroke-width="1.35" stroke-linejoin="round" transform="rotate(45 656.5 848.3)"/>
<rect x="672.3" y="843.3" width="4.4" height="4.4" fill="none" stroke="#ffa500" stroke-width="1.35" stroke-linejoin="round" transform="rotate(45 674.5 845.5)"/>
<rect x="690.3" y="835.4" width="4.4" height="4.4" fill="none" stroke="#ffa500" stroke-width="1.35" stroke-linejoin="round" transform="rotate(45 692.5 837.6)"/>
<rect x="708.3" y="828.3" width="4.4" height="4.4" fill="none" stroke="#ffa500" stroke-width="1.35" stroke-linejoin="round" transform="rotate(45 710.5 830.5)"/>
<rect x="726.3" y="820.3" width="4.4" height="4.4" fill="none" stroke="#ffa500" stroke-width="1.35" stroke-linejoin="round" transform="rotate(45 728.5 822.5)"/>
<rect x="744.3" y="813.2" width="4.4" height="4.4" fill="none" stroke="#ffa500" stroke-width="1.35" stroke-linejoin="round" transform="rotate(45 746.5 815.4)"/>
<rect x="762.3" y="642.9" width="4.4" height="4.4" fill="none" stroke="#ffa500" stroke-width="1.35" stroke-linejoin="round" transform="rotate(45 764.5 645.1)"/>
<rect x="780.3" y="648.6" width="4.4" height="4.4" fill="none" stroke="#ffa500" stroke-width="1.35" stroke-linejoin="round" transform="rotate(45 782.5 650.8)"/>
<rect x="798.3" y="651.4" width="4.4" height="4.4" fill="none" stroke="#ffa500" stroke-width="1.35" stroke-linejoin="round" transform="rotate(45 800.5 653.6)"/>
<rect x="815.3" y="655.4" width="4.4" height="4.4" fill="none" stroke="#ffa500" stroke-width="1.35" stroke-linejoin="round" transform="rotate(45 817.5 657.6)"/>
<rect x="833.3" y="822.4" width="4.4" height="4.4" fill="none" stroke="#ffa500" stroke-width="1.35" stroke-linejoin="round" transform="rotate(45 835.5 824.6)"/>
<rect x="851.3" y="819.3" width="4.4" height="4.4" fill="none" stroke="#ffa500" stroke-width="1.35" stroke-linejoin="round" transform="rotate(45 853.5 821.5)"/>
<rect x="869.3" y="816.3" width="4.4" height="4.4" fill="none" stroke="#ffa500" stroke-width="1.35" stroke-linejoin="round" transform="rotate(45 871.5 818.5)"/>
<rect x="887.3" y="813.4" width="4.4" height="4.4" fill="none" stroke="#ffa500" stroke-width="1.35" stroke-linejoin="round" transform="rotate(45 889.5 815.6)"/>
<rect x="905.3" y="810.1" width="4.4" height="4.4" fill="none" stroke="#ffa500" stroke-width="1.35" stroke-linejoin="round" transform="rotate(45 907.5 812.3)"/>
<rect x="923.3" y="807.3" width="4.4" height="4.4" fill="none" stroke="#ffa500" stroke-width="1.35" stroke-linejoin="round" transform="rotate(45 925.5 809.5)"/>
<rect x="941.3" y="804.3" width="4.4" height="4.4" fill="none" stroke="#ffa500" stroke-width="1.35" stroke-linejoin="round" transform="rotate(45 943.5 806.5)"/>
<rect x="959.3" y="801.2" width="4.4" height="4.4" fill="none" stroke="#ffa500" stroke-width="1.35" stroke-linejoin="round" transform="rotate(45 961.5 803.4)"/>
<rect x="976.3" y="798.1" width="4.4" height="4.4" fill="none" stroke="#ffa500" stroke-width="1.35" stroke-linejoin="round" transform="rotate(45 978.5 800.3)"/>
<rect x="994.3" y="795.1" width="4.4" height="4.4" fill="none" stroke="#ffa500" stroke-width="1.35" stroke-linejoin="round" transform="rotate(45 996.5 797.3)"/>
<rect x="1012.3" y="792.3" width="4.4" height="4.4" fill="none" stroke="#ffa500" stroke-width="1.35" stroke-linejoin="round" transform="rotate(45 1014.5 794.5)"/>
<rect x="1030.3" y="657.2" width="4.4" height="4.4" fill="none" stroke="#ffa500" stroke-width="1.35" stroke-linejoin="round" transform="rotate(45 1032.5 659.4)"/>
<rect x="1048.3" y="661.3" width="4.4" height="4.4" fill="none" stroke="#ffa500" stroke-width="1.35" stroke-linejoin="round" transform="rotate(45 1050.5 663.5)"/>
<rect x="1066.3" y="665.1" width="4.4" height="4.4" fill="none" stroke="#ffa500" stroke-width="1.35" stroke-linejoin="round" transform="rotate(45 1068.5 667.3)"/>
<rect x="1084.3" y="669.5" width="4.4" height="4.4" fill="none" stroke="#ffa500" stroke-width="1.35" stroke-linejoin="round" transform="rotate(45 1086.5 671.7)"/>
<rect x="1102.3" y="673.1" width="4.4" height="4.4" fill="none" stroke="#ffa500" stroke-width="1.35" stroke-linejoin="round" transform="rotate(45 1104.5 675.3)"/>
<rect x="1120.3" y="676.4" width="4.4" height="4.4" fill="none" stroke="#ffa500" stroke-width="1.35" stroke-linejoin="round" transform="rotate(45 1122.5 678.6)"/>
<rect x="1138.3" y="680.2" width="4.4" height="4.4" fill="none" stroke="#ffa500" stroke-width="1.35" stroke-linejoin="round" transform="rotate(45 1140.5 682.4)"/>
<text x="1160.6" y="688.1" font-family="Liberation Mono,monospace" font-size="12" fill="#ffa500" textLength="53.5" lengthAdjust="spacingAndGlyphs">PARABOLIC</text>
<g shape-rendering="crispEdges">
<rect x="84" y="641" width="1" height="37" fill="#000080"/>
<rect x="77" y="646" width="15" height="14" fill="#000080"/>
<rect x="101" y="639" width="1" height="29" fill="#ff0000"/>
<rect x="94.5" y="657.5" width="14" height="9" fill="#fff" stroke="#ff0000" stroke-width="1"/>
<rect x="119" y="663" width="1" height="25" fill="#000080"/>
<rect x="112" y="663" width="15" height="11" fill="#000080"/>
<rect x="137" y="657" width="1" height="60" fill="#000080"/>
<rect x="130" y="703" width="15" height="2" fill="#000080"/>
<rect x="155" y="614" width="1" height="46" fill="#ff0000"/>
<rect x="148.5" y="616.5" width="14" height="44" fill="#fff" stroke="#ff0000" stroke-width="1"/>
<rect x="173" y="602" width="1" height="28" fill="#000080"/>
<rect x="166" y="617" width="15" height="4" fill="#000080"/>
<rect x="191" y="672" width="1" height="61" fill="#000080"/>
<rect x="184" y="675" width="15" height="53" fill="#000080"/>
<rect x="209" y="708" width="1" height="44" fill="#ff0000"/>
<rect x="202.5" y="722.5" width="14" height="25" fill="#fff" stroke="#ff0000" stroke-width="1"/>
<rect x="227" y="736" width="1" height="32" fill="#000080"/>
<rect x="220" y="740" width="15" height="11" fill="#000080"/>
<rect x="245" y="720" width="1" height="32" fill="#ff0000"/>
<rect x="238.5" y="721.5" width="14" height="18" fill="#fff" stroke="#ff0000" stroke-width="1"/>
<rect x="263" y="658" width="1" height="27" fill="#ff0000"/>
<rect x="256" y="675" width="15" height="2" fill="#ff0000"/>
<rect x="280" y="623" width="1" height="21" fill="#ff0000"/>
<rect x="273.5" y="626.5" width="14" height="15" fill="#fff" stroke="#ff0000" stroke-width="1"/>
<rect x="298" y="617" width="1" height="25" fill="#ff0000"/>
<rect x="291.5" y="623.5" width="14" height="12" fill="#fff" stroke="#ff0000" stroke-width="1"/>
<rect x="316" y="561" width="1" height="21" fill="#ff0000"/>
<rect x="309.5" y="573.5" width="14" height="6" fill="#fff" stroke="#ff0000" stroke-width="1"/>
<rect x="334" y="577" width="1" height="19" fill="#000080"/>
<rect x="327" y="589" width="15" height="4" fill="#000080"/>
<rect x="352" y="583" width="1" height="19" fill="#000080"/>
<rect x="345" y="584" width="15" height="10" fill="#000080"/>
<rect x="370" y="521" width="1" height="40" fill="#ff0000"/>
<rect x="363.5" y="524.5" width="14" height="37" fill="#fff" stroke="#ff0000" stroke-width="1"/>
<rect x="388" y="540" width="1" height="23" fill="#000080"/>
<rect x="381" y="554" width="15" height="7" fill="#000080"/>
<rect x="406" y="599" width="1" height="18" fill="#000080"/>
<rect x="399" y="599" width="15" height="15" fill="#000080"/>
<rect x="424" y="589" width="1" height="34" fill="#ff0000"/>
<rect x="417.5" y="612.5" width="14" height="7" fill="#fff" stroke="#ff0000" stroke-width="1"/>
<rect x="442" y="650" width="1" height="28" fill="#000080"/>
<rect x="435" y="654" width="15" height="13" fill="#000080"/>
<rect x="459" y="660" width="1" height="23" fill="#000080"/>
<rect x="452" y="660" width="15" height="19" fill="#000080"/>
<rect x="477" y="659" width="1" height="61" fill="#000080"/>
<rect x="470" y="671" width="15" height="43" fill="#000080"/>
<rect x="495" y="755" width="1" height="22" fill="#000080"/>
<rect x="488" y="762" width="15" height="5" fill="#000080"/>
<rect x="513" y="790" width="1" height="43" fill="#000080"/>
<rect x="506" y="790" width="15" height="30" fill="#000080"/>
<rect x="531" y="801" width="1" height="29" fill="#000080"/>
<rect x="524" y="808" width="15" height="10" fill="#000080"/>
<rect x="549" y="794" width="1" height="20" fill="#ff0000"/>
<rect x="542.5" y="799.5" width="14" height="10" fill="#fff" stroke="#ff0000" stroke-width="1"/>
<rect x="567" y="775" width="1" height="74" fill="#ff0000"/>
<rect x="560.5" y="779.5" width="14" height="50" fill="#fff" stroke="#ff0000" stroke-width="1"/>
<rect x="585" y="781" width="1" height="31" fill="#000080"/>
<rect x="578" y="783" width="15" height="13" fill="#000080"/>
<rect x="603" y="720" width="1" height="26" fill="#ff0000"/>
<rect x="596.5" y="723.5" width="14" height="20" fill="#fff" stroke="#ff0000" stroke-width="1"/>
<rect x="621" y="701" width="1" height="28" fill="#000080"/>
<rect x="614" y="704" width="15" height="6" fill="#000080"/>
<rect x="638" y="695" width="1" height="29" fill="#ff0000"/>
<rect x="631.5" y="719.5" width="14" height="2" fill="#fff" stroke="#ff0000" stroke-width="1"/>
<rect x="656" y="696" width="1" height="37" fill="#000080"/>
<rect x="649" y="707" width="15" height="16" fill="#000080"/>
<rect x="674" y="646" width="1" height="32" fill="#ff0000"/>
<rect x="667.5" y="649.5" width="14" height="25" fill="#fff" stroke="#ff0000" stroke-width="1"/>
<rect x="692" y="669" width="1" height="18" fill="#000080"/>
<rect x="685" y="676" width="15" height="5" fill="#000080"/>
<rect x="710" y="694" width="1" height="70" fill="#000080"/>
<rect x="703" y="704" width="15" height="56" fill="#000080"/>
<rect x="728" y="767" width="1" height="38" fill="#ff0000"/>
<rect x="721.5" y="789.5" width="14" height="10" fill="#fff" stroke="#ff0000" stroke-width="1"/>
<rect x="746" y="760" width="1" height="50" fill="#000080"/>
<rect x="739" y="760" width="15" height="36" fill="#000080"/>
<rect x="764" y="802" width="1" height="23" fill="#ff0000"/>
<rect x="757" y="812" width="15" height="2" fill="#ff0000"/>
<rect x="782" y="740" width="1" height="32" fill="#ff0000"/>
<rect x="775.5" y="752.5" width="14" height="15" fill="#fff" stroke="#ff0000" stroke-width="1"/>
<rect x="800" y="715" width="1" height="21" fill="#000080"/>
<rect x="793" y="727" width="15" height="6" fill="#000080"/>
<rect x="817" y="721" width="1" height="16" fill="#000080"/>
<rect x="810" y="729" width="15" height="6" fill="#000080"/>
<rect x="835" y="659" width="1" height="42" fill="#ff0000"/>
<rect x="828.5" y="661.5" width="14" height="40" fill="#fff" stroke="#ff0000" stroke-width="1"/>
<rect x="853" y="667" width="1" height="25" fill="#ff0000"/>
<rect x="846.5" y="678.5" width="14" height="12" fill="#fff" stroke="#ff0000" stroke-width="1"/>
<rect x="871" y="688" width="1" height="44" fill="#000080"/>
<rect x="864" y="688" width="15" height="35" fill="#000080"/>
<rect x="889" y="683" width="1" height="37" fill="#000080"/>
<rect x="882" y="712" width="15" height="2" fill="#000080"/>
<rect x="907" y="662" width="1" height="34" fill="#000080"/>
<rect x="900" y="672" width="15" height="7" fill="#000080"/>
<rect x="925" y="701" width="1" height="40" fill="#000080"/>
<rect x="918" y="703" width="15" height="34" fill="#000080"/>
<rect x="943" y="681" width="1" height="31" fill="#ff0000"/>
<rect x="936.5" y="689.5" width="14" height="4" fill="#fff" stroke="#ff0000" stroke-width="1"/>
<rect x="961" y="688" width="1" height="32" fill="#ff0000"/>
<rect x="954.5" y="693.5" width="14" height="23" fill="#fff" stroke="#ff0000" stroke-width="1"/>
<rect x="978" y="712" width="1" height="15" fill="#ff0000"/>
<rect x="971.5" y="712.5" width="14" height="11" fill="#fff" stroke="#ff0000" stroke-width="1"/>
<rect x="996" y="686" width="1" height="46" fill="#000080"/>
<rect x="989" y="696" width="15" height="23" fill="#000080"/>
<rect x="1014" y="748" width="1" height="47" fill="#000080"/>
<rect x="1007" y="755" width="15" height="37" fill="#000080"/>
<rect x="1032" y="814" width="1" height="43" fill="#ff0000"/>
<rect x="1025.5" y="814.5" width="14" height="25" fill="#fff" stroke="#ff0000" stroke-width="1"/>
<rect x="1050" y="795" width="1" height="33" fill="#ff0000"/>
<rect x="1043.5" y="803.5" width="14" height="10" fill="#fff" stroke="#ff0000" stroke-width="1"/>
<rect x="1068" y="815" width="1" height="33" fill="#ff0000"/>
<rect x="1061.5" y="819.5" width="14" height="14" fill="#fff" stroke="#ff0000" stroke-width="1"/>
<rect x="1086" y="821" width="1" height="30" fill="#ff0000"/>
<rect x="1079.5" y="828.5" width="14" height="21" fill="#fff" stroke="#ff0000" stroke-width="1"/>
<rect x="1104" y="795" width="1" height="37" fill="#000080"/>
<rect x="1097" y="800" width="15" height="7" fill="#000080"/>
<rect x="1122" y="772" width="1" height="34" fill="#ff0000"/>
<rect x="1115.5" y="772.5" width="14" height="34" fill="#fff" stroke="#ff0000" stroke-width="1"/>
<rect x="1140" y="793" width="1" height="34" fill="#000080"/>
<rect x="1133" y="807" width="15" height="17" fill="#000080"/>
</g>
<text x="103.4" y="636.6" text-anchor="middle" font-family="Liberation Sans,Noto Sans CJK JP,sans-serif" font-size="10" fill="#000">S</text>
<text x="157.2" y="612.1" text-anchor="middle" font-family="Liberation Sans,Noto Sans CJK JP,sans-serif" font-size="10" fill="#000">S</text>
<text x="408" y="597.2" text-anchor="middle" font-family="Liberation Sans,Noto Sans CJK JP,sans-serif" font-size="10" fill="#000">S</text>
<text x="622.9" y="699.6" text-anchor="middle" font-family="Liberation Sans,Noto Sans CJK JP,sans-serif" font-size="10" fill="#000">S</text>
<text x="712" y="691.9" text-anchor="middle" font-family="Liberation Sans,Noto Sans CJK JP,sans-serif" font-size="10" fill="#000">S</text>
<text x="497.3" y="752.1" text-anchor="middle" font-family="Liberation Sans,Noto Sans CJK JP,sans-serif" font-size="10" fill="#000">S</text>
<text x="926.9" y="698.8" text-anchor="middle" font-family="Liberation Sans,Noto Sans CJK JP,sans-serif" font-size="10" fill="#000">S</text>
<text x="86" y="688.1" text-anchor="middle" font-family="Liberation Sans,Noto Sans CJK JP,sans-serif" font-size="10" fill="#000">B</text>
<text x="121" y="698.6" text-anchor="middle" font-family="Liberation Sans,Noto Sans CJK JP,sans-serif" font-size="10" fill="#000">B</text>
<text x="264.9" y="695.1" text-anchor="middle" font-family="Liberation Sans,Noto Sans CJK JP,sans-serif" font-size="10" fill="#000">B</text>
<text x="479.1" y="729.6" text-anchor="middle" font-family="Liberation Sans,Noto Sans CJK JP,sans-serif" font-size="10" fill="#000">B</text>
<text x="605" y="755.9" text-anchor="middle" font-family="Liberation Sans,Noto Sans CJK JP,sans-serif" font-size="10" fill="#000">B</text>
<text x="784.2" y="780.7" text-anchor="middle" font-family="Liberation Sans,Noto Sans CJK JP,sans-serif" font-size="10" fill="#000">B</text>
<text x="676.2" y="688.8" text-anchor="middle" font-family="Liberation Sans,Noto Sans CJK JP,sans-serif" font-size="10" fill="#000">B</text>
<line x1="681.8" y1="647.3" x2="1176.4" y2="647.3" stroke="#ed1c24" stroke-width="4.5" stroke-linecap="round"/>
<line x1="1009.8" y1="729.5" x2="1175.3" y2="729.5" stroke="#ed1c24" stroke-width="5" stroke-linecap="round"/>
<path d="M256.5 915V904.5H270.5V915" fill="none" stroke="#0000ff" stroke-width="1" shape-rendering="crispEdges"/>
<path d="M757.5 915V912.5H771.5V915" fill="none" stroke="#0000ff" stroke-width="1" shape-rendering="crispEdges"/>
</g>
</svg>
</body></html>
